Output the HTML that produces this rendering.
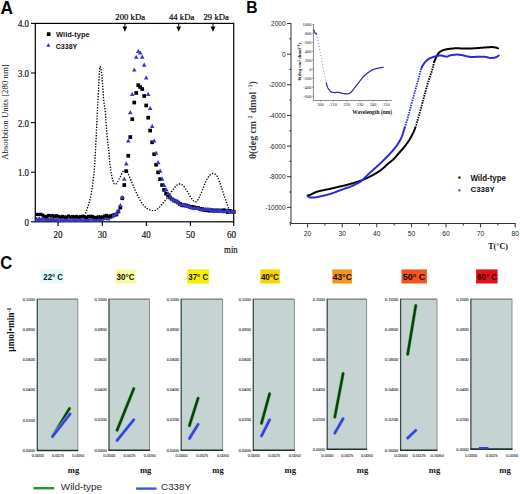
<!DOCTYPE html>
<html><head><meta charset="utf-8"><style>
html,body{margin:0;padding:0;background:#fff;width:520px;height:494px;overflow:hidden;}
svg{display:block;}
</style></head><body>
<svg width="520" height="494" viewBox="0 0 520 494">
<rect width="520" height="494" fill="#fff"/>
<text transform="translate(0.6,13.5) scale(0.98,1)" font-family='"Liberation Sans", sans-serif' font-size="17.6" font-weight="bold" fill="#000">A</text>
<rect x="35.3" y="23.4" width="198.39999999999998" height="198.4" fill="none" stroke="#000" stroke-width="1.2"/>
<line x1="31.00" y1="23.40" x2="35.30" y2="23.40" stroke="#000" stroke-width="1.1" />
<text transform="translate(29.0,27.30) scale(0.83,1)" font-family='"Liberation Serif", serif' font-size="10.6" text-anchor="end" fill="#111" stroke="#111" stroke-width="0.2">4.0</text>
<line x1="31.00" y1="73.00" x2="35.30" y2="73.00" stroke="#000" stroke-width="1.1" />
<text transform="translate(29.0,76.90) scale(0.83,1)" font-family='"Liberation Serif", serif' font-size="10.6" text-anchor="end" fill="#111" stroke="#111" stroke-width="0.2">3.0</text>
<line x1="31.00" y1="122.60" x2="35.30" y2="122.60" stroke="#000" stroke-width="1.1" />
<text transform="translate(29.0,126.50) scale(0.83,1)" font-family='"Liberation Serif", serif' font-size="10.6" text-anchor="end" fill="#111" stroke="#111" stroke-width="0.2">2.0</text>
<line x1="31.00" y1="172.20" x2="35.30" y2="172.20" stroke="#000" stroke-width="1.1" />
<text transform="translate(29.0,176.10) scale(0.83,1)" font-family='"Liberation Serif", serif' font-size="10.6" text-anchor="end" fill="#111" stroke="#111" stroke-width="0.2">1.0</text>
<line x1="31.00" y1="221.80" x2="35.30" y2="221.80" stroke="#000" stroke-width="1.1" />
<text transform="translate(29.0,225.70) scale(0.83,1)" font-family='"Liberation Serif", serif' font-size="10.6" text-anchor="end" fill="#111" stroke="#111" stroke-width="0.2">0</text>
<line x1="58.10" y1="221.80" x2="58.10" y2="226.00" stroke="#000" stroke-width="1.1" />
<text transform="translate(58.10,237.5) scale(0.86,1)" font-family='"Liberation Serif", serif' font-size="10.5" text-anchor="middle" fill="#111" stroke="#111" stroke-width="0.2">20</text>
<line x1="102.30" y1="221.80" x2="102.30" y2="226.00" stroke="#000" stroke-width="1.1" />
<text transform="translate(102.30,237.5) scale(0.86,1)" font-family='"Liberation Serif", serif' font-size="10.5" text-anchor="middle" fill="#111" stroke="#111" stroke-width="0.2">30</text>
<line x1="146.30" y1="221.80" x2="146.30" y2="226.00" stroke="#000" stroke-width="1.1" />
<text transform="translate(146.30,237.5) scale(0.86,1)" font-family='"Liberation Serif", serif' font-size="10.5" text-anchor="middle" fill="#111" stroke="#111" stroke-width="0.2">40</text>
<line x1="190.40" y1="221.80" x2="190.40" y2="226.00" stroke="#000" stroke-width="1.1" />
<text transform="translate(190.40,237.5) scale(0.86,1)" font-family='"Liberation Serif", serif' font-size="10.5" text-anchor="middle" fill="#111" stroke="#111" stroke-width="0.2">50</text>
<line x1="233.70" y1="221.80" x2="233.70" y2="226.00" stroke="#000" stroke-width="1.1" />
<text transform="translate(231.60,237.5) scale(0.86,1)" font-family='"Liberation Serif", serif' font-size="10.5" text-anchor="middle" fill="#111" stroke="#111" stroke-width="0.2">60</text>
<text transform="translate(230.9,252.8) scale(0.86,1)" font-family='"Liberation Serif", serif' font-size="10.2" text-anchor="middle" fill="#111" stroke="#111" stroke-width="0.2">min</text>
<text x="130.20" y="19.60" font-family='"Liberation Serif", serif' font-size="8.7" font-weight="normal" text-anchor="middle" fill="#000" stroke="#000" stroke-width="0.2">200 kDa</text>
<line x1="124.90" y1="23.40" x2="124.90" y2="26.60" stroke="#000" stroke-width="1.0" />
<polygon points="122.50,26.4 127.30,26.4 124.90,31.8" fill="#000"/>
<text x="181.60" y="19.60" font-family='"Liberation Serif", serif' font-size="8.7" font-weight="normal" text-anchor="middle" fill="#000" stroke="#000" stroke-width="0.2">44 kDa</text>
<line x1="178.70" y1="23.40" x2="178.70" y2="26.60" stroke="#000" stroke-width="1.0" />
<polygon points="176.30,26.4 181.10,26.4 178.70,31.8" fill="#000"/>
<text x="216.20" y="19.60" font-family='"Liberation Serif", serif' font-size="8.7" font-weight="normal" text-anchor="middle" fill="#000" stroke="#000" stroke-width="0.2">29 kDa</text>
<line x1="213.00" y1="23.40" x2="213.00" y2="26.60" stroke="#000" stroke-width="1.0" />
<polygon points="210.60,26.4 215.40,26.4 213.00,31.8" fill="#000"/>
<text transform="translate(7.6,112.1) rotate(-90)" font-family='"Liberation Serif", serif' font-size="8.8" text-anchor="middle" fill="#111">Absorbtion Units [280 nm]</text>
<path d="M36.00,218.00 L36.15,218.00 L36.31,218.00 L36.48,218.00 L36.65,218.00 L36.83,218.00 L37.01,218.00 L37.20,218.00 L37.39,218.00 L37.59,218.00 L37.79,218.00 L38.00,218.01 L38.22,218.01 L38.44,218.01 L38.66,218.01 L38.89,218.01 L39.12,218.01 L39.36,218.01 L39.61,218.01 L39.85,218.01 L40.11,218.02 L40.36,218.02 L40.62,218.02 L40.89,218.02 L41.16,218.02 L41.43,218.02 L41.71,218.03 L41.99,218.03 L42.28,218.03 L42.57,218.03 L42.86,218.03 L43.15,218.04 L43.45,218.04 L43.76,218.04 L44.06,218.04 L44.37,218.04 L44.69,218.05 L45.00,218.05 L45.32,218.05 L45.64,218.05 L45.97,218.05 L46.30,218.06 L46.63,218.06 L46.96,218.06 L47.29,218.06 L47.63,218.07 L47.97,218.07 L48.31,218.07 L48.66,218.07 L49.00,218.07 L49.35,218.08 L49.70,218.08 L50.06,218.08 L50.41,218.08 L50.77,218.09 L51.12,218.09 L51.48,218.09 L51.84,218.09 L52.21,218.10 L52.57,218.10 L52.93,218.10 L53.30,218.10 L53.67,218.10 L54.04,218.11 L54.40,218.11 L54.77,218.11 L55.14,218.11 L55.51,218.11 L55.89,218.12 L56.26,218.12 L56.63,218.12 L57.00,218.12 L57.38,218.12 L57.75,218.12 L58.12,218.13 L58.50,218.13 L58.87,218.13 L59.24,218.13 L59.62,218.13 L59.99,218.13 L60.36,218.14 L60.73,218.14 L61.10,218.14 L61.47,218.14 L61.84,218.14 L62.21,218.14 L62.58,218.14 L62.95,218.14 L63.31,218.14 L63.68,218.15 L64.04,218.15 L64.41,218.15 L64.77,218.15 L65.13,218.15 L65.48,218.15 L65.84,218.15 L66.20,218.15 L66.55,218.15 L66.90,218.15 L67.25,218.15 L67.60,218.15 L67.94,218.15 L68.29,218.15 L68.63,218.15 L68.96,218.15 L69.30,218.15 L69.63,218.14 L69.97,218.14 L70.29,218.14 L70.62,218.14 L70.94,218.14 L71.26,218.14 L71.58,218.14 L71.89,218.14 L72.20,218.13 L72.51,218.13 L72.82,218.13 L73.12,218.13 L73.41,218.13 L73.71,218.12 L74.00,218.12 L74.28,218.12 L74.57,218.11 L74.84,218.11 L75.12,218.11 L75.39,218.11 L75.66,218.10 L75.92,218.10 L76.18,218.09 L76.43,218.09 L76.68,218.09 L76.93,218.08 L77.17,218.08 L77.40,218.07 L77.63,218.07 L77.86,218.06 L78.08,218.06 L78.29,218.05 L78.51,218.05 L78.71,218.04 L78.91,218.04 L79.11,218.03 L79.30,218.03 L79.48,218.02 L79.66,218.01 L79.83,218.01 L80.00,218.00 L81.52,217.92 L82.69,217.84 L83.54,217.75 L84.11,217.65 L84.45,217.54 L84.61,217.41 L84.61,217.28 L84.51,217.14 L84.34,216.98 L84.15,216.81 L83.98,216.63 L83.87,216.43 L83.86,216.22 L84.00,216.00 L84.19,215.79 L84.36,215.56 L84.53,215.33 L84.69,215.07 L84.83,214.81 L84.97,214.54 L85.11,214.26 L85.24,213.97 L85.36,213.67 L85.48,213.37 L85.60,213.06 L85.72,212.75 L85.84,212.44 L85.96,212.13 L86.08,211.81 L86.20,211.50 L86.30,211.24 L86.41,210.97 L86.50,210.70 L86.60,210.43 L86.70,210.16 L86.79,209.88 L86.88,209.60 L86.98,209.32 L87.07,209.04 L87.16,208.75 L87.25,208.46 L87.34,208.16 L87.43,207.87 L87.52,207.57 L87.61,207.26 L87.71,206.95 L87.80,206.64 L87.90,206.32 L88.00,206.00 L88.08,205.73 L88.17,205.47 L88.25,205.20 L88.34,204.94 L88.42,204.67 L88.51,204.40 L88.59,204.14 L88.68,203.87 L88.77,203.59 L88.86,203.32 L88.94,203.04 L89.03,202.75 L89.12,202.46 L89.21,202.17 L89.30,201.87 L89.38,201.56 L89.47,201.25 L89.56,200.93 L89.65,200.60 L89.74,200.26 L89.83,199.92 L89.91,199.56 L90.00,199.20 L90.06,198.95 L90.12,198.69 L90.18,198.42 L90.24,198.14 L90.30,197.86 L90.36,197.58 L90.43,197.29 L90.49,196.99 L90.55,196.69 L90.62,196.39 L90.68,196.08 L90.74,195.77 L90.81,195.46 L90.87,195.14 L90.93,194.83 L90.99,194.51 L91.06,194.19 L91.12,193.87 L91.18,193.55 L91.24,193.23 L91.30,192.91 L91.36,192.59 L91.42,192.27 L91.48,191.96 L91.53,191.64 L91.59,191.33 L91.65,191.03 L91.70,190.72 L91.75,190.42 L91.81,190.13 L91.86,189.84 L91.91,189.55 L91.95,189.27 L92.00,189.00 L92.06,188.66 L92.11,188.34 L92.16,188.02 L92.21,187.70 L92.26,187.39 L92.30,187.09 L92.35,186.80 L92.39,186.50 L92.43,186.21 L92.47,185.93 L92.51,185.64 L92.55,185.36 L92.58,185.08 L92.62,184.80 L92.65,184.51 L92.69,184.23 L92.72,183.94 L92.76,183.65 L92.79,183.36 L92.83,183.06 L92.87,182.76 L92.90,182.45 L92.94,182.14 L92.98,181.81 L93.02,181.48 L93.06,181.15 L93.10,180.80 L93.13,180.54 L93.16,180.28 L93.20,180.02 L93.23,179.76 L93.26,179.51 L93.29,179.26 L93.33,179.00 L93.36,178.75 L93.39,178.50 L93.43,178.24 L93.46,177.99 L93.49,177.73 L93.53,177.47 L93.56,177.21 L93.59,176.95 L93.63,176.68 L93.66,176.41 L93.69,176.14 L93.73,175.86 L93.76,175.57 L93.79,175.28 L93.83,174.99 L93.86,174.69 L93.90,174.38 L93.93,174.06 L93.96,173.74 L94.00,173.41 L94.03,173.07 L94.07,172.72 L94.10,172.36 L94.13,172.00 L94.17,171.62 L94.20,171.23 L94.23,170.83 L94.27,170.42 L94.30,170.00 L94.32,169.76 L94.34,169.53 L94.35,169.28 L94.37,169.03 L94.39,168.78 L94.41,168.53 L94.43,168.27 L94.45,168.01 L94.47,167.74 L94.48,167.47 L94.50,167.20 L94.52,166.92 L94.54,166.64 L94.56,166.36 L94.58,166.08 L94.60,165.79 L94.61,165.50 L94.63,165.21 L94.65,164.91 L94.67,164.62 L94.69,164.32 L94.71,164.01 L94.73,163.71 L94.74,163.40 L94.76,163.10 L94.78,162.79 L94.80,162.48 L94.82,162.16 L94.84,161.85 L94.86,161.53 L94.88,161.21 L94.89,160.89 L94.91,160.57 L94.93,160.25 L94.95,159.93 L94.97,159.61 L94.99,159.29 L95.00,158.96 L95.02,158.64 L95.04,158.31 L95.06,157.99 L95.08,157.66 L95.10,157.33 L95.11,157.01 L95.13,156.68 L95.15,156.36 L95.17,156.03 L95.19,155.70 L95.21,155.38 L95.22,155.05 L95.24,154.73 L95.26,154.41 L95.28,154.08 L95.29,153.76 L95.31,153.44 L95.33,153.12 L95.35,152.80 L95.36,152.48 L95.38,152.17 L95.40,151.85 L95.42,151.54 L95.43,151.23 L95.45,150.92 L95.47,150.61 L95.48,150.30 L95.50,150.00 L95.52,149.70 L95.53,149.39 L95.55,149.09 L95.57,148.78 L95.58,148.48 L95.60,148.17 L95.62,147.86 L95.63,147.56 L95.65,147.25 L95.66,146.94 L95.68,146.63 L95.70,146.32 L95.71,146.01 L95.73,145.70 L95.74,145.39 L95.76,145.08 L95.78,144.77 L95.79,144.46 L95.81,144.15 L95.82,143.84 L95.84,143.53 L95.86,143.22 L95.87,142.91 L95.89,142.60 L95.90,142.29 L95.92,141.98 L95.93,141.67 L95.95,141.36 L95.96,141.05 L95.98,140.74 L95.99,140.43 L96.01,140.12 L96.03,139.81 L96.04,139.50 L96.06,139.20 L96.07,138.89 L96.09,138.58 L96.10,138.27 L96.12,137.97 L96.13,137.66 L96.14,137.36 L96.16,137.05 L96.17,136.75 L96.19,136.44 L96.20,136.14 L96.22,135.84 L96.23,135.54 L96.25,135.24 L96.26,134.94 L96.28,134.64 L96.29,134.34 L96.30,134.04 L96.32,133.75 L96.33,133.45 L96.35,133.16 L96.36,132.87 L96.38,132.57 L96.39,132.28 L96.40,131.99 L96.42,131.71 L96.43,131.42 L96.45,131.13 L96.46,130.85 L96.47,130.56 L96.49,130.28 L96.50,130.00 L96.52,129.67 L96.53,129.34 L96.55,129.02 L96.56,128.70 L96.58,128.37 L96.59,128.06 L96.61,127.74 L96.62,127.42 L96.64,127.11 L96.65,126.80 L96.67,126.49 L96.68,126.18 L96.70,125.87 L96.71,125.56 L96.72,125.26 L96.74,124.95 L96.75,124.65 L96.76,124.35 L96.78,124.05 L96.79,123.75 L96.81,123.45 L96.82,123.15 L96.83,122.85 L96.85,122.56 L96.86,122.26 L96.87,121.97 L96.89,121.67 L96.90,121.38 L96.91,121.08 L96.93,120.79 L96.94,120.49 L96.95,120.20 L96.97,119.90 L96.98,119.61 L96.99,119.32 L97.01,119.02 L97.02,118.73 L97.04,118.43 L97.05,118.14 L97.06,117.84 L97.08,117.55 L97.09,117.25 L97.10,116.95 L97.12,116.65 L97.13,116.36 L97.15,116.06 L97.16,115.76 L97.18,115.45 L97.19,115.15 L97.21,114.85 L97.22,114.54 L97.24,114.24 L97.25,113.93 L97.27,113.62 L97.28,113.31 L97.30,113.00 L97.32,112.71 L97.33,112.42 L97.35,112.12 L97.36,111.83 L97.38,111.54 L97.39,111.25 L97.41,110.96 L97.42,110.67 L97.44,110.37 L97.46,110.08 L97.47,109.79 L97.49,109.50 L97.51,109.20 L97.52,108.91 L97.54,108.62 L97.55,108.32 L97.57,108.03 L97.59,107.74 L97.61,107.44 L97.62,107.15 L97.64,106.85 L97.66,106.56 L97.67,106.26 L97.69,105.97 L97.71,105.67 L97.72,105.38 L97.74,105.08 L97.76,104.78 L97.78,104.49 L97.79,104.19 L97.81,103.89 L97.83,103.59 L97.85,103.29 L97.86,102.99 L97.88,102.69 L97.90,102.39 L97.91,102.09 L97.93,101.79 L97.95,101.49 L97.97,101.19 L97.98,100.88 L98.00,100.58 L98.02,100.27 L98.04,99.97 L98.05,99.66 L98.07,99.36 L98.09,99.05 L98.10,98.74 L98.12,98.44 L98.14,98.13 L98.15,97.82 L98.17,97.51 L98.19,97.20 L98.20,96.89 L98.22,96.57 L98.24,96.26 L98.25,95.95 L98.27,95.63 L98.28,95.32 L98.30,95.00 L98.31,94.71 L98.33,94.42 L98.34,94.12 L98.36,93.82 L98.37,93.52 L98.39,93.21 L98.40,92.90 L98.41,92.59 L98.43,92.28 L98.44,91.96 L98.46,91.64 L98.47,91.32 L98.49,91.00 L98.50,90.68 L98.51,90.35 L98.53,90.02 L98.54,89.69 L98.56,89.37 L98.57,89.03 L98.58,88.70 L98.60,88.37 L98.61,88.04 L98.62,87.70 L98.64,87.37 L98.65,87.04 L98.67,86.70 L98.68,86.37 L98.69,86.03 L98.71,85.70 L98.72,85.37 L98.74,85.04 L98.75,84.71 L98.76,84.38 L98.78,84.05 L98.79,83.72 L98.80,83.39 L98.82,83.07 L98.83,82.74 L98.84,82.42 L98.86,82.10 L98.87,81.79 L98.88,81.47 L98.90,81.16 L98.91,80.85 L98.92,80.55 L98.94,80.24 L98.95,79.94 L98.96,79.64 L98.98,79.35 L98.99,79.06 L99.00,78.77 L99.02,78.49 L99.03,78.21 L99.04,77.93 L99.06,77.66 L99.07,77.40 L99.08,77.13 L99.10,76.88 L99.11,76.62 L99.12,76.37 L99.14,76.13 L99.15,75.89 L99.16,75.66 L99.17,75.44 L99.19,75.22 L99.20,75.00 L99.23,74.47 L99.26,73.97 L99.30,73.48 L99.33,73.02 L99.36,72.57 L99.39,72.15 L99.42,71.75 L99.45,71.36 L99.48,70.99 L99.51,70.64 L99.55,70.31 L99.58,69.99 L99.61,69.69 L99.64,69.40 L99.67,69.13 L99.70,68.88 L99.73,68.63 L99.76,68.40 L99.79,68.19 L99.82,67.99 L99.85,67.79 L99.88,67.61 L99.91,67.45 L99.94,67.29 L99.97,67.14 L100.00,67.00 L100.20,66.48 L100.39,66.56 L100.59,67.12 L100.80,68.00 L100.84,68.18 L100.88,68.36 L100.92,68.56 L100.96,68.76 L101.00,68.97 L101.04,69.20 L101.08,69.43 L101.13,69.68 L101.17,69.93 L101.21,70.20 L101.25,70.48 L101.30,70.77 L101.34,71.08 L101.38,71.40 L101.43,71.74 L101.47,72.09 L101.52,72.45 L101.57,72.83 L101.61,73.23 L101.66,73.65 L101.71,74.08 L101.75,74.53 L101.80,75.00 L101.82,75.22 L101.84,75.46 L101.87,75.70 L101.89,75.94 L101.91,76.20 L101.94,76.46 L101.96,76.73 L101.99,77.00 L102.01,77.28 L102.04,77.57 L102.06,77.86 L102.09,78.15 L102.11,78.46 L102.14,78.76 L102.16,79.07 L102.19,79.38 L102.21,79.70 L102.24,80.02 L102.26,80.34 L102.29,80.66 L102.32,80.99 L102.34,81.32 L102.37,81.65 L102.39,81.98 L102.42,82.31 L102.44,82.65 L102.47,82.98 L102.50,83.31 L102.52,83.64 L102.55,83.98 L102.57,84.31 L102.60,84.64 L102.62,84.97 L102.65,85.29 L102.67,85.62 L102.69,85.94 L102.72,86.26 L102.74,86.57 L102.77,86.88 L102.79,87.19 L102.81,87.50 L102.83,87.80 L102.86,88.09 L102.88,88.38 L102.90,88.67 L102.92,88.95 L102.94,89.22 L102.96,89.49 L102.98,89.75 L103.00,90.00 L103.03,90.37 L103.05,90.73 L103.08,91.09 L103.10,91.43 L103.12,91.76 L103.14,92.08 L103.16,92.40 L103.18,92.71 L103.20,93.01 L103.22,93.30 L103.23,93.59 L103.25,93.88 L103.26,94.16 L103.28,94.44 L103.30,94.71 L103.31,94.99 L103.33,95.26 L103.34,95.53 L103.36,95.81 L103.38,96.08 L103.39,96.35 L103.41,96.63 L103.43,96.91 L103.45,97.19 L103.47,97.48 L103.49,97.77 L103.52,98.07 L103.54,98.37 L103.57,98.68 L103.60,99.00 L103.63,99.32 L103.66,99.66 L103.70,100.00 L103.73,100.27 L103.76,100.53 L103.79,100.80 L103.82,101.06 L103.85,101.32 L103.89,101.58 L103.92,101.85 L103.96,102.11 L103.99,102.37 L104.03,102.63 L104.07,102.89 L104.10,103.16 L104.14,103.42 L104.18,103.69 L104.22,103.96 L104.26,104.23 L104.30,104.50 L104.35,104.77 L104.39,105.05 L104.43,105.33 L104.47,105.61 L104.52,105.89 L104.56,106.18 L104.60,106.47 L104.64,106.77 L104.69,107.07 L104.73,107.37 L104.77,107.68 L104.82,107.99 L104.86,108.31 L104.90,108.64 L104.95,108.96 L104.99,109.30 L105.03,109.64 L105.08,109.98 L105.12,110.34 L105.16,110.70 L105.20,111.06 L105.24,111.43 L105.28,111.81 L105.32,112.20 L105.36,112.60 L105.40,113.00 L105.42,113.24 L105.45,113.49 L105.47,113.74 L105.49,113.99 L105.51,114.25 L105.53,114.51 L105.56,114.78 L105.58,115.05 L105.60,115.32 L105.62,115.60 L105.64,115.88 L105.67,116.16 L105.69,116.45 L105.71,116.74 L105.73,117.03 L105.75,117.32 L105.77,117.62 L105.79,117.92 L105.82,118.22 L105.84,118.52 L105.86,118.83 L105.88,119.14 L105.90,119.45 L105.92,119.76 L105.94,120.08 L105.96,120.39 L105.99,120.71 L106.01,121.03 L106.03,121.35 L106.05,121.67 L106.07,121.99 L106.09,122.31 L106.11,122.64 L106.13,122.96 L106.16,123.29 L106.18,123.61 L106.20,123.94 L106.22,124.26 L106.24,124.59 L106.26,124.92 L106.28,125.24 L106.30,125.57 L106.33,125.90 L106.35,126.22 L106.37,126.55 L106.39,126.87 L106.41,127.20 L106.43,127.52 L106.46,127.84 L106.48,128.16 L106.50,128.48 L106.52,128.80 L106.54,129.12 L106.56,129.43 L106.59,129.75 L106.61,130.06 L106.63,130.37 L106.65,130.68 L106.68,130.99 L106.70,131.29 L106.72,131.59 L106.74,131.89 L106.77,132.19 L106.79,132.48 L106.81,132.78 L106.84,133.06 L106.86,133.35 L106.88,133.63 L106.91,133.91 L106.93,134.19 L106.95,134.46 L106.98,134.73 L107.00,135.00 L107.03,135.35 L107.06,135.70 L107.10,136.04 L107.13,136.38 L107.16,136.72 L107.20,137.06 L107.23,137.39 L107.27,137.72 L107.30,138.05 L107.34,138.37 L107.37,138.70 L107.41,139.02 L107.44,139.34 L107.48,139.66 L107.51,139.97 L107.55,140.28 L107.58,140.60 L107.62,140.90 L107.66,141.21 L107.69,141.52 L107.73,141.82 L107.77,142.12 L107.80,142.43 L107.84,142.73 L107.88,143.02 L107.91,143.32 L107.95,143.62 L107.99,143.91 L108.02,144.20 L108.06,144.49 L108.10,144.78 L108.13,145.07 L108.17,145.36 L108.20,145.65 L108.24,145.94 L108.28,146.22 L108.31,146.51 L108.35,146.79 L108.38,147.08 L108.42,147.36 L108.45,147.65 L108.49,147.93 L108.52,148.21 L108.55,148.49 L108.59,148.78 L108.62,149.06 L108.65,149.34 L108.69,149.62 L108.72,149.90 L108.75,150.19 L108.78,150.47 L108.81,150.75 L108.84,151.03 L108.87,151.32 L108.90,151.60 L108.93,151.92 L108.96,152.25 L109.00,152.57 L109.03,152.89 L109.06,153.21 L109.08,153.53 L109.11,153.85 L109.14,154.16 L109.17,154.48 L109.19,154.79 L109.22,155.11 L109.24,155.42 L109.27,155.73 L109.29,156.04 L109.31,156.35 L109.34,156.66 L109.36,156.97 L109.38,157.27 L109.41,157.58 L109.43,157.89 L109.45,158.19 L109.47,158.49 L109.50,158.80 L109.52,159.10 L109.54,159.40 L109.56,159.70 L109.59,160.00 L109.61,160.30 L109.63,160.60 L109.66,160.90 L109.68,161.20 L109.71,161.50 L109.73,161.79 L109.76,162.09 L109.78,162.39 L109.81,162.68 L109.84,162.98 L109.87,163.27 L109.90,163.57 L109.93,163.86 L109.96,164.15 L109.99,164.45 L110.02,164.74 L110.06,165.03 L110.09,165.32 L110.13,165.62 L110.16,165.91 L110.20,166.20 L110.24,166.51 L110.28,166.83 L110.33,167.15 L110.37,167.47 L110.42,167.79 L110.46,168.11 L110.51,168.44 L110.56,168.77 L110.61,169.09 L110.66,169.42 L110.71,169.75 L110.76,170.08 L110.81,170.41 L110.87,170.74 L110.92,171.07 L110.97,171.40 L111.03,171.73 L111.08,172.06 L111.14,172.39 L111.19,172.71 L111.25,173.03 L111.30,173.35 L111.36,173.67 L111.42,173.99 L111.47,174.30 L111.53,174.61 L111.59,174.92 L111.64,175.22 L111.70,175.52 L111.76,175.81 L111.82,176.11 L111.87,176.39 L111.93,176.67 L111.99,176.95 L112.05,177.22 L112.10,177.49 L112.16,177.75 L112.22,178.00 L112.27,178.25 L112.33,178.50 L112.38,178.73 L112.44,178.96 L112.49,179.18 L112.55,179.39 L112.60,179.60 L112.74,180.12 L112.88,180.61 L113.02,181.07 L113.15,181.49 L113.29,181.89 L113.42,182.26 L113.56,182.60 L113.69,182.91 L113.83,183.19 L113.97,183.44 L114.11,183.66 L114.25,183.85 L114.39,184.02 L114.54,184.15 L114.69,184.26 L114.84,184.35 L115.00,184.40 L115.18,184.42 L115.36,184.39 L115.54,184.32 L115.72,184.20 L115.91,184.05 L116.09,183.86 L116.28,183.63 L116.48,183.37 L116.68,183.09 L116.88,182.79 L117.09,182.46 L117.31,182.11 L117.53,181.75 L117.76,181.38 L118.00,181.00 L118.12,180.80 L118.25,180.59 L118.39,180.36 L118.53,180.11 L118.67,179.86 L118.81,179.59 L118.96,179.32 L119.11,179.04 L119.27,178.75 L119.42,178.45 L119.58,178.15 L119.74,177.84 L119.90,177.53 L120.05,177.22 L120.21,176.91 L120.37,176.59 L120.53,176.28 L120.68,175.98 L120.84,175.67 L120.99,175.37 L121.14,175.08 L121.28,174.80 L121.43,174.52 L121.57,174.25 L121.70,173.99 L121.83,173.75 L121.96,173.51 L122.08,173.29 L122.19,173.09 L122.30,172.90 L122.57,172.43 L122.79,172.02 L122.99,171.65 L123.17,171.33 L123.33,171.05 L123.47,170.82 L123.62,170.62 L123.77,170.47 L123.92,170.34 L124.10,170.26 L124.30,170.20 L124.54,170.18 L124.79,170.20 L125.04,170.26 L125.31,170.38 L125.58,170.53 L125.85,170.73 L126.13,170.98 L126.42,171.27 L126.71,171.61 L127.00,172.00 L127.13,172.18 L127.26,172.38 L127.38,172.58 L127.51,172.79 L127.64,173.01 L127.77,173.24 L127.90,173.48 L128.03,173.73 L128.16,173.99 L128.30,174.25 L128.43,174.53 L128.57,174.81 L128.71,175.10 L128.84,175.40 L128.99,175.70 L129.13,176.02 L129.27,176.34 L129.42,176.66 L129.57,177.00 L129.72,177.34 L129.88,177.69 L130.04,178.04 L130.20,178.40 L130.30,178.63 L130.41,178.87 L130.51,179.11 L130.62,179.36 L130.73,179.62 L130.84,179.88 L130.96,180.15 L131.07,180.42 L131.19,180.70 L131.30,180.98 L131.42,181.27 L131.54,181.56 L131.66,181.85 L131.78,182.15 L131.90,182.44 L132.03,182.74 L132.15,183.04 L132.27,183.34 L132.39,183.64 L132.52,183.95 L132.64,184.25 L132.76,184.55 L132.88,184.85 L133.00,185.15 L133.13,185.44 L133.25,185.74 L133.37,186.03 L133.49,186.32 L133.60,186.60 L133.72,186.88 L133.84,187.16 L133.95,187.43 L134.06,187.70 L134.18,187.96 L134.29,188.21 L134.39,188.46 L134.50,188.70 L134.65,189.03 L134.79,189.36 L134.94,189.68 L135.08,189.99 L135.21,190.29 L135.35,190.59 L135.48,190.88 L135.62,191.16 L135.75,191.44 L135.88,191.72 L136.01,191.99 L136.13,192.26 L136.26,192.53 L136.39,192.80 L136.52,193.06 L136.65,193.32 L136.78,193.58 L136.91,193.84 L137.04,194.11 L137.17,194.37 L137.30,194.63 L137.44,194.90 L137.57,195.17 L137.71,195.44 L137.86,195.72 L138.00,196.00 L138.14,196.26 L138.27,196.53 L138.41,196.80 L138.55,197.07 L138.69,197.35 L138.82,197.62 L138.96,197.90 L139.10,198.17 L139.25,198.45 L139.39,198.73 L139.53,199.01 L139.67,199.29 L139.82,199.56 L139.96,199.84 L140.11,200.11 L140.26,200.38 L140.40,200.65 L140.55,200.92 L140.70,201.19 L140.85,201.45 L141.00,201.71 L141.16,201.96 L141.31,202.22 L141.47,202.46 L141.62,202.70 L141.78,202.94 L141.94,203.17 L142.10,203.40 L142.30,203.67 L142.49,203.94 L142.69,204.20 L142.89,204.46 L143.08,204.72 L143.28,204.97 L143.48,205.21 L143.69,205.46 L143.89,205.70 L144.09,205.93 L144.30,206.16 L144.51,206.39 L144.72,206.61 L144.94,206.82 L145.15,207.03 L145.37,207.24 L145.59,207.43 L145.82,207.63 L146.05,207.81 L146.28,207.99 L146.52,208.17 L146.76,208.34 L147.00,208.50 L147.26,208.66 L147.53,208.83 L147.81,208.98 L148.10,209.14 L148.39,209.28 L148.69,209.43 L148.99,209.57 L149.29,209.70 L149.60,209.82 L149.91,209.94 L150.22,210.06 L150.53,210.16 L150.84,210.26 L151.14,210.35 L151.44,210.43 L151.74,210.50 L152.04,210.56 L152.33,210.61 L152.61,210.65 L152.88,210.68 L153.14,210.69 L153.40,210.70 L153.74,210.69 L154.06,210.66 L154.37,210.61 L154.67,210.54 L154.96,210.45 L155.24,210.34 L155.52,210.22 L155.79,210.08 L156.06,209.93 L156.32,209.76 L156.59,209.58 L156.86,209.39 L157.14,209.18 L157.42,208.96 L157.70,208.74 L158.00,208.50 L158.20,208.33 L158.40,208.16 L158.61,207.97 L158.81,207.78 L159.02,207.58 L159.22,207.37 L159.43,207.15 L159.64,206.93 L159.85,206.70 L160.05,206.47 L160.26,206.23 L160.47,205.99 L160.69,205.74 L160.90,205.49 L161.11,205.24 L161.32,204.99 L161.53,204.74 L161.74,204.49 L161.95,204.24 L162.16,203.98 L162.37,203.73 L162.58,203.49 L162.79,203.24 L163.00,203.00 L163.19,202.78 L163.39,202.55 L163.58,202.33 L163.78,202.10 L163.98,201.88 L164.17,201.65 L164.37,201.42 L164.57,201.19 L164.77,200.96 L164.97,200.73 L165.17,200.50 L165.37,200.26 L165.56,200.03 L165.76,199.80 L165.96,199.56 L166.15,199.33 L166.34,199.10 L166.54,198.86 L166.73,198.63 L166.91,198.39 L167.10,198.16 L167.29,197.93 L167.47,197.70 L167.65,197.46 L167.83,197.23 L168.00,197.00 L168.19,196.75 L168.37,196.50 L168.55,196.24 L168.72,195.99 L168.90,195.73 L169.07,195.48 L169.24,195.22 L169.41,194.96 L169.57,194.71 L169.74,194.45 L169.90,194.19 L170.06,193.94 L170.22,193.68 L170.38,193.43 L170.54,193.18 L170.70,192.93 L170.86,192.68 L171.02,192.43 L171.18,192.18 L171.34,191.94 L171.51,191.70 L171.67,191.46 L171.83,191.23 L172.00,191.00 L172.19,190.74 L172.38,190.47 L172.58,190.21 L172.77,189.94 L172.97,189.68 L173.16,189.41 L173.36,189.15 L173.55,188.89 L173.75,188.63 L173.94,188.38 L174.13,188.13 L174.33,187.88 L174.52,187.64 L174.71,187.41 L174.90,187.18 L175.09,186.96 L175.28,186.75 L175.46,186.55 L175.64,186.36 L175.82,186.17 L176.00,186.00 L176.28,185.74 L176.55,185.49 L176.82,185.26 L177.08,185.05 L177.34,184.85 L177.60,184.68 L177.85,184.52 L178.11,184.38 L178.36,184.26 L178.61,184.16 L178.87,184.08 L179.13,184.03 L179.40,184.00 L179.69,183.99 L179.98,184.00 L180.28,184.04 L180.57,184.09 L180.87,184.17 L181.16,184.28 L181.46,184.41 L181.76,184.57 L182.07,184.76 L182.37,184.98 L182.69,185.22 L183.00,185.50 L183.17,185.67 L183.35,185.85 L183.53,186.04 L183.70,186.24 L183.88,186.46 L184.06,186.68 L184.24,186.92 L184.43,187.16 L184.61,187.41 L184.79,187.67 L184.97,187.94 L185.16,188.21 L185.34,188.48 L185.53,188.76 L185.71,189.04 L185.90,189.32 L186.08,189.60 L186.27,189.89 L186.45,190.17 L186.63,190.45 L186.82,190.73 L187.00,191.00 L187.16,191.24 L187.32,191.49 L187.48,191.75 L187.64,192.01 L187.80,192.27 L187.96,192.54 L188.13,192.81 L188.29,193.08 L188.45,193.36 L188.61,193.63 L188.77,193.91 L188.93,194.19 L189.09,194.46 L189.25,194.74 L189.41,195.01 L189.57,195.28 L189.73,195.55 L189.89,195.81 L190.05,196.07 L190.21,196.32 L190.37,196.57 L190.53,196.82 L190.69,197.05 L190.84,197.28 L191.00,197.50 L191.21,197.79 L191.41,198.08 L191.62,198.37 L191.82,198.67 L192.03,198.96 L192.24,199.25 L192.44,199.53 L192.64,199.80 L192.85,200.07 L193.05,200.33 L193.25,200.57 L193.45,200.80 L193.65,201.01 L193.85,201.20 L194.04,201.37 L194.24,201.51 L194.43,201.64 L194.61,201.73 L194.80,201.80 L195.06,201.86 L195.32,201.87 L195.56,201.85 L195.80,201.78 L196.04,201.68 L196.27,201.54 L196.50,201.35 L196.74,201.14 L196.98,200.88 L197.22,200.59 L197.47,200.26 L197.73,199.90 L198.00,199.50 L198.12,199.32 L198.24,199.13 L198.36,198.93 L198.48,198.72 L198.60,198.50 L198.72,198.27 L198.85,198.03 L198.98,197.78 L199.10,197.53 L199.23,197.27 L199.36,197.00 L199.49,196.73 L199.62,196.45 L199.75,196.17 L199.88,195.88 L200.02,195.58 L200.15,195.29 L200.28,194.99 L200.41,194.68 L200.55,194.38 L200.68,194.07 L200.81,193.76 L200.95,193.45 L201.08,193.14 L201.21,192.83 L201.35,192.52 L201.48,192.22 L201.61,191.91 L201.74,191.60 L201.87,191.30 L202.00,191.00 L202.11,190.73 L202.23,190.46 L202.34,190.18 L202.46,189.90 L202.57,189.62 L202.69,189.33 L202.80,189.03 L202.91,188.74 L203.03,188.44 L203.14,188.14 L203.26,187.83 L203.37,187.53 L203.49,187.22 L203.60,186.92 L203.71,186.61 L203.83,186.30 L203.94,186.00 L204.06,185.69 L204.17,185.39 L204.29,185.08 L204.40,184.78 L204.51,184.49 L204.63,184.19 L204.74,183.90 L204.86,183.61 L204.97,183.32 L205.09,183.04 L205.20,182.77 L205.31,182.50 L205.43,182.23 L205.54,181.97 L205.66,181.72 L205.77,181.47 L205.89,181.23 L206.00,181.00 L206.17,180.67 L206.34,180.35 L206.50,180.03 L206.67,179.72 L206.84,179.41 L207.01,179.11 L207.18,178.82 L207.36,178.54 L207.53,178.26 L207.70,177.99 L207.87,177.73 L208.04,177.47 L208.21,177.22 L208.38,176.98 L208.54,176.74 L208.71,176.52 L208.88,176.30 L209.04,176.09 L209.21,175.89 L209.37,175.69 L209.53,175.51 L209.69,175.33 L209.84,175.16 L210.00,175.00 L210.30,174.70 L210.60,174.44 L210.89,174.21 L211.17,174.02 L211.45,173.85 L211.73,173.72 L212.00,173.61 L212.27,173.54 L212.55,173.49 L212.83,173.47 L213.11,173.47 L213.40,173.50 L213.65,173.54 L213.90,173.58 L214.15,173.64 L214.40,173.70 L214.65,173.79 L214.91,173.90 L215.16,174.03 L215.42,174.19 L215.68,174.39 L215.94,174.62 L216.20,174.90 L216.46,175.21 L216.73,175.58 L217.00,176.00 L217.11,176.18 L217.22,176.38 L217.33,176.58 L217.44,176.80 L217.55,177.02 L217.66,177.25 L217.77,177.49 L217.89,177.74 L218.00,177.99 L218.11,178.25 L218.23,178.52 L218.34,178.80 L218.46,179.08 L218.57,179.36 L218.69,179.66 L218.80,179.95 L218.92,180.25 L219.03,180.56 L219.15,180.87 L219.26,181.18 L219.38,181.50 L219.50,181.81 L219.61,182.13 L219.73,182.46 L219.85,182.78 L219.96,183.10 L220.08,183.43 L220.19,183.75 L220.31,184.08 L220.43,184.40 L220.54,184.72 L220.66,185.05 L220.77,185.37 L220.89,185.68 L221.00,186.00 L221.10,186.26 L221.19,186.53 L221.29,186.80 L221.39,187.08 L221.48,187.36 L221.58,187.64 L221.68,187.92 L221.78,188.21 L221.88,188.50 L221.97,188.79 L222.07,189.08 L222.17,189.38 L222.27,189.68 L222.37,189.97 L222.47,190.27 L222.57,190.57 L222.67,190.87 L222.77,191.18 L222.87,191.48 L222.96,191.78 L223.06,192.08 L223.16,192.38 L223.26,192.68 L223.36,192.98 L223.45,193.28 L223.55,193.58 L223.65,193.88 L223.74,194.17 L223.84,194.46 L223.93,194.75 L224.02,195.04 L224.12,195.33 L224.21,195.61 L224.30,195.89 L224.39,196.17 L224.48,196.44 L224.57,196.71 L224.66,196.98 L224.75,197.24 L224.83,197.50 L224.92,197.75 L225.00,198.00 L225.12,198.34 L225.23,198.68 L225.34,199.02 L225.45,199.36 L225.56,199.69 L225.66,200.02 L225.77,200.35 L225.87,200.67 L225.97,200.99 L226.07,201.31 L226.17,201.62 L226.27,201.93 L226.37,202.23 L226.47,202.53 L226.56,202.83 L226.66,203.12 L226.75,203.41 L226.85,203.70 L226.94,203.97 L227.04,204.25 L227.13,204.52 L227.23,204.78 L227.32,205.04 L227.42,205.29 L227.51,205.54 L227.61,205.79 L227.70,206.02 L227.80,206.25 L227.90,206.48 L228.00,206.70 L228.18,207.07 L228.36,207.42 L228.54,207.75 L228.72,208.06 L228.90,208.36 L229.08,208.64 L229.26,208.90 L229.44,209.15 L229.62,209.39 L229.80,209.61 L229.98,209.83 L230.15,210.04 L230.33,210.24 L230.50,210.44 L230.67,210.63 L230.84,210.81 L231.00,211.00 L231.28,211.30 L231.57,211.58 L231.87,211.83 L232.16,212.06 L232.44,212.27 L232.70,212.45 L232.95,212.62 L233.17,212.76 L233.35,212.89 L233.50,213.00" fill="none" stroke="#000" stroke-width="1.35" stroke-dasharray="1.35 1.45"/>
<g fill="#000"><rect x="110.51" y="213.81" width="3.7" height="3.7"/><rect x="112.50" y="213.07" width="3.7" height="3.7"/><rect x="114.49" y="212.64" width="3.7" height="3.7"/><rect x="116.48" y="209.65" width="3.7" height="3.7"/><rect x="118.47" y="205.70" width="3.7" height="3.7"/><rect x="120.46" y="196.42" width="3.7" height="3.7"/><rect x="122.45" y="183.15" width="3.7" height="3.7"/><rect x="124.44" y="169.32" width="3.7" height="3.7"/><rect x="126.43" y="153.93" width="3.7" height="3.7"/><rect x="128.42" y="135.19" width="3.7" height="3.7"/><rect x="130.41" y="117.29" width="3.7" height="3.7"/><rect x="132.40" y="100.69" width="3.7" height="3.7"/><rect x="134.39" y="91.09" width="3.7" height="3.7"/><rect x="136.38" y="83.38" width="3.7" height="3.7"/><rect x="138.37" y="85.17" width="3.7" height="3.7"/><rect x="140.36" y="87.19" width="3.7" height="3.7"/><rect x="142.35" y="94.15" width="3.7" height="3.7"/><rect x="144.34" y="103.63" width="3.7" height="3.7"/><rect x="146.33" y="115.83" width="3.7" height="3.7"/><rect x="148.32" y="128.76" width="3.7" height="3.7"/><rect x="150.31" y="140.42" width="3.7" height="3.7"/><rect x="152.30" y="152.35" width="3.7" height="3.7"/><rect x="154.29" y="162.90" width="3.7" height="3.7"/><rect x="156.28" y="170.50" width="3.7" height="3.7"/><rect x="158.27" y="177.31" width="3.7" height="3.7"/><rect x="160.26" y="183.22" width="3.7" height="3.7"/><rect x="162.25" y="188.04" width="3.7" height="3.7"/><rect x="164.24" y="191.74" width="3.7" height="3.7"/><rect x="166.23" y="193.66" width="3.7" height="3.7"/><rect x="168.22" y="195.66" width="3.7" height="3.7"/><rect x="170.21" y="197.52" width="3.7" height="3.7"/><rect x="172.20" y="198.75" width="3.7" height="3.7"/><rect x="174.19" y="199.51" width="3.7" height="3.7"/><rect x="176.18" y="200.67" width="3.7" height="3.7"/><rect x="178.17" y="202.08" width="3.7" height="3.7"/><rect x="180.16" y="203.40" width="3.7" height="3.7"/><rect x="182.15" y="203.51" width="3.7" height="3.7"/><rect x="184.14" y="203.56" width="3.7" height="3.7"/><rect x="186.13" y="204.14" width="3.7" height="3.7"/><rect x="188.12" y="205.06" width="3.7" height="3.7"/><rect x="190.11" y="205.01" width="3.7" height="3.7"/><rect x="192.10" y="205.40" width="3.7" height="3.7"/><rect x="194.09" y="206.36" width="3.7" height="3.7"/><rect x="196.08" y="205.99" width="3.7" height="3.7"/><rect x="198.07" y="207.10" width="3.7" height="3.7"/><rect x="200.06" y="207.15" width="3.7" height="3.7"/><rect x="202.05" y="208.03" width="3.7" height="3.7"/><rect x="204.04" y="208.36" width="3.7" height="3.7"/><rect x="206.03" y="208.52" width="3.7" height="3.7"/><rect x="208.02" y="208.77" width="3.7" height="3.7"/><rect x="210.01" y="208.32" width="3.7" height="3.7"/><rect x="212.00" y="208.95" width="3.7" height="3.7"/><rect x="213.99" y="208.45" width="3.7" height="3.7"/><rect x="215.98" y="208.97" width="3.7" height="3.7"/><rect x="217.97" y="208.63" width="3.7" height="3.7"/><rect x="219.96" y="208.95" width="3.7" height="3.7"/><rect x="221.95" y="208.37" width="3.7" height="3.7"/><rect x="223.94" y="208.80" width="3.7" height="3.7"/><rect x="225.93" y="210.22" width="3.7" height="3.7"/><rect x="227.92" y="208.99" width="3.7" height="3.7"/><rect x="229.91" y="209.93" width="3.7" height="3.7"/><rect x="231.90" y="209.92" width="3.7" height="3.7"/></g>
<g fill="#3535d0"><polygon points="34.44,221.38 39.04,221.38 36.74,217.28"/><polygon points="36.43,221.06 41.03,221.06 38.73,216.96"/><polygon points="38.42,221.32 43.02,221.32 40.72,217.22"/><polygon points="40.41,220.55 45.01,220.55 42.71,216.45"/><polygon points="42.40,220.63 47.00,220.63 44.70,216.53"/><polygon points="44.39,220.90 48.99,220.90 46.69,216.80"/><polygon points="46.38,220.90 50.98,220.90 48.68,216.80"/><polygon points="48.37,220.86 52.97,220.86 50.67,216.76"/><polygon points="50.36,220.91 54.96,220.91 52.66,216.81"/><polygon points="52.35,221.59 56.95,221.59 54.65,217.49"/><polygon points="54.34,221.00 58.94,221.00 56.64,216.90"/><polygon points="56.33,222.22 60.93,222.22 58.63,218.12"/><polygon points="58.32,221.78 62.92,221.78 60.62,217.68"/><polygon points="60.31,221.53 64.91,221.53 62.61,217.43"/><polygon points="62.30,221.76 66.90,221.76 64.60,217.66"/><polygon points="64.29,221.02 68.89,221.02 66.59,216.92"/><polygon points="66.28,222.05 70.88,222.05 68.58,217.95"/><polygon points="68.27,221.88 72.87,221.88 70.57,217.78"/><polygon points="70.26,221.67 74.86,221.67 72.56,217.57"/><polygon points="72.25,221.25 76.85,221.25 74.55,217.15"/><polygon points="74.24,221.80 78.84,221.80 76.54,217.70"/><polygon points="76.23,221.61 80.83,221.61 78.53,217.51"/><polygon points="78.22,221.45 82.82,221.45 80.52,217.35"/><polygon points="80.21,221.82 84.81,221.82 82.51,217.72"/><polygon points="82.20,221.34 86.80,221.34 84.50,217.24"/><polygon points="84.19,220.88 88.79,220.88 86.49,216.78"/><polygon points="86.18,221.14 90.78,221.14 88.48,217.04"/><polygon points="88.17,220.54 92.77,220.54 90.47,216.44"/><polygon points="90.16,220.50 94.76,220.50 92.46,216.40"/><polygon points="92.15,221.32 96.75,221.32 94.45,217.22"/><polygon points="94.14,221.38 98.74,221.38 96.44,217.28"/><polygon points="96.13,221.64 100.73,221.64 98.43,217.54"/><polygon points="98.12,221.35 102.72,221.35 100.42,217.25"/><polygon points="100.11,220.75 104.71,220.75 102.41,216.65"/><polygon points="102.10,219.76 106.70,219.76 104.40,215.66"/><polygon points="104.09,220.11 108.69,220.11 106.39,216.01"/><polygon points="106.08,220.42 110.68,220.42 108.38,216.32"/><polygon points="108.07,218.94 112.67,218.94 110.37,214.84"/><polygon points="110.06,217.63 114.66,217.63 112.36,213.53"/><polygon points="112.05,216.56 116.65,216.56 114.35,212.46"/><polygon points="114.04,215.24 118.64,215.24 116.34,211.14"/><polygon points="116.03,212.51 120.63,212.51 118.33,208.41"/><polygon points="118.02,207.06 122.62,207.06 120.32,202.96"/><polygon points="120.01,199.06 124.61,199.06 122.31,194.96"/><polygon points="122.00,180.83 126.60,180.83 124.30,176.73"/><polygon points="123.99,165.47 128.59,165.47 126.29,161.37"/><polygon points="125.98,142.55 130.58,142.55 128.28,138.45"/><polygon points="127.97,114.16 132.57,114.16 130.27,110.06"/><polygon points="129.96,95.99 134.56,95.99 132.26,91.89"/><polygon points="131.95,71.50 136.55,71.50 134.25,67.40"/><polygon points="133.94,58.82 138.54,58.82 136.24,54.72"/><polygon points="135.93,53.00 140.53,53.00 138.23,48.90"/><polygon points="137.92,54.44 142.52,54.44 140.22,50.34"/><polygon points="139.91,58.65 144.51,58.65 142.21,54.55"/><polygon points="141.90,66.70 146.50,66.70 144.20,62.60"/><polygon points="143.89,79.53 148.49,79.53 146.19,75.43"/><polygon points="145.88,95.97 150.48,95.97 148.18,91.87"/><polygon points="147.87,109.99 152.47,109.99 150.17,105.89"/><polygon points="149.86,127.90 154.46,127.90 152.16,123.80"/><polygon points="151.85,142.49 156.45,142.49 154.15,138.39"/><polygon points="153.84,154.74 158.44,154.74 156.14,150.64"/><polygon points="155.83,164.19 160.43,164.19 158.13,160.09"/><polygon points="157.82,172.66 162.42,172.66 160.12,168.56"/><polygon points="159.81,180.66 164.41,180.66 162.11,176.56"/><polygon points="161.80,187.00 166.40,187.00 164.10,182.90"/><polygon points="163.79,191.03 168.39,191.03 166.09,186.93"/><polygon points="165.78,195.04 170.38,195.04 168.08,190.94"/><polygon points="167.77,198.48 172.37,198.48 170.07,194.38"/><polygon points="169.76,200.96 174.36,200.96 172.06,196.86"/><polygon points="171.75,201.70 176.35,201.70 174.05,197.60"/><polygon points="173.74,202.75 178.34,202.75 176.04,198.65"/><polygon points="175.73,203.71 180.33,203.71 178.03,199.61"/><polygon points="177.72,206.13 182.32,206.13 180.02,202.03"/><polygon points="179.71,206.44 184.31,206.44 182.01,202.34"/><polygon points="181.70,206.35 186.30,206.35 184.00,202.25"/><polygon points="183.69,207.49 188.29,207.49 185.99,203.39"/><polygon points="185.68,207.62 190.28,207.62 187.98,203.52"/><polygon points="187.67,208.39 192.27,208.39 189.97,204.29"/><polygon points="189.66,209.55 194.26,209.55 191.96,205.45"/><polygon points="191.65,209.75 196.25,209.75 193.95,205.65"/><polygon points="193.64,209.80 198.24,209.80 195.94,205.70"/><polygon points="195.63,209.80 200.23,209.80 197.93,205.70"/><polygon points="197.62,210.73 202.22,210.73 199.92,206.63"/><polygon points="199.61,211.47 204.21,211.47 201.91,207.37"/><polygon points="201.60,210.90 206.20,210.90 203.90,206.80"/><polygon points="203.59,210.57 208.19,210.57 205.89,206.47"/><polygon points="205.58,210.80 210.18,210.80 207.88,206.70"/><polygon points="207.57,211.03 212.17,211.03 209.87,206.93"/><polygon points="209.56,212.59 214.16,212.59 211.86,208.49"/><polygon points="211.55,212.08 216.15,212.08 213.85,207.98"/><polygon points="213.54,212.71 218.14,212.71 215.84,208.61"/><polygon points="215.53,211.80 220.13,211.80 217.83,207.70"/><polygon points="217.52,212.10 222.12,212.10 219.82,208.00"/><polygon points="219.51,212.91 224.11,212.91 221.81,208.81"/><polygon points="221.50,213.34 226.10,213.34 223.80,209.24"/><polygon points="223.49,212.56 228.09,212.56 225.79,208.46"/><polygon points="225.48,212.23 230.08,212.23 227.78,208.13"/><polygon points="227.47,213.61 232.07,213.61 229.77,209.51"/><polygon points="229.46,212.80 234.06,212.80 231.76,208.70"/><polygon points="231.45,213.59 236.05,213.59 233.75,209.49"/></g>
<g fill="#000"><rect x="35.14" y="212.81" width="3.2" height="3.2"/><rect x="37.13" y="212.96" width="3.2" height="3.2"/><rect x="39.12" y="212.70" width="3.2" height="3.2"/><rect x="41.11" y="213.60" width="3.2" height="3.2"/><rect x="43.10" y="214.70" width="3.2" height="3.2"/><rect x="45.09" y="214.97" width="3.2" height="3.2"/><rect x="47.08" y="213.85" width="3.2" height="3.2"/><rect x="49.07" y="214.20" width="3.2" height="3.2"/><rect x="51.06" y="214.00" width="3.2" height="3.2"/><rect x="53.05" y="214.78" width="3.2" height="3.2"/><rect x="55.04" y="214.12" width="3.2" height="3.2"/><rect x="57.03" y="214.97" width="3.2" height="3.2"/><rect x="59.02" y="215.39" width="3.2" height="3.2"/><rect x="61.01" y="214.78" width="3.2" height="3.2"/><rect x="63.00" y="215.56" width="3.2" height="3.2"/><rect x="64.99" y="215.46" width="3.2" height="3.2"/><rect x="66.98" y="214.50" width="3.2" height="3.2"/><rect x="68.97" y="215.49" width="3.2" height="3.2"/><rect x="70.96" y="214.92" width="3.2" height="3.2"/><rect x="72.95" y="215.16" width="3.2" height="3.2"/><rect x="74.94" y="214.88" width="3.2" height="3.2"/><rect x="76.93" y="215.58" width="3.2" height="3.2"/><rect x="78.92" y="215.09" width="3.2" height="3.2"/><rect x="80.91" y="214.58" width="3.2" height="3.2"/><rect x="82.90" y="215.28" width="3.2" height="3.2"/><rect x="84.89" y="215.70" width="3.2" height="3.2"/><rect x="86.88" y="214.85" width="3.2" height="3.2"/><rect x="88.87" y="214.69" width="3.2" height="3.2"/><rect x="90.86" y="214.92" width="3.2" height="3.2"/><rect x="92.85" y="215.85" width="3.2" height="3.2"/><rect x="94.84" y="215.86" width="3.2" height="3.2"/><rect x="96.83" y="215.26" width="3.2" height="3.2"/><rect x="98.82" y="215.60" width="3.2" height="3.2"/><rect x="100.81" y="215.40" width="3.2" height="3.2"/><rect x="102.80" y="214.46" width="3.2" height="3.2"/><rect x="104.79" y="213.85" width="3.2" height="3.2"/><rect x="106.78" y="214.76" width="3.2" height="3.2"/><rect x="108.77" y="214.41" width="3.2" height="3.2"/></g>
<rect x="46.8" y="32.3" width="3.7" height="3.7" fill="#000"/>
<polygon points="46.3,46.7 50.4,46.7 48.35,42.9" fill="#3535d0"/>
<text x="56.10" y="37.10" font-family='"Liberation Sans", sans-serif' font-size="8.0" font-weight="bold" text-anchor="start" fill="#111" textLength="33.6" lengthAdjust="spacingAndGlyphs">Wild-type</text>
<text x="55.80" y="48.70" font-family='"Liberation Sans", sans-serif' font-size="7.7" font-weight="bold" text-anchor="start" fill="#111" textLength="21.4" lengthAdjust="spacingAndGlyphs">C338Y</text>
<text transform="translate(246.3,13.3) scale(0.91,1)" font-family='"Liberation Sans", sans-serif' font-size="17.2" font-weight="bold" fill="#000">B</text>
<line x1="291.00" y1="23.01" x2="291.00" y2="223.50" stroke="#333" stroke-width="1.0" />
<line x1="290.50" y1="223.50" x2="515.70" y2="223.50" stroke="#333" stroke-width="1.0" />
<line x1="287.00" y1="23.51" x2="291.00" y2="23.51" stroke="#333" stroke-width="1.0" />
<text transform="translate(285.6,26.21) scale(0.86,1)" font-family='"Liberation Sans", sans-serif' font-size="7.6" text-anchor="end" fill="#222">2000</text>
<line x1="289.30" y1="38.83" x2="291.00" y2="38.83" stroke="#333" stroke-width="1.0" />
<line x1="287.00" y1="54.15" x2="291.00" y2="54.15" stroke="#333" stroke-width="1.0" />
<text transform="translate(285.6,56.85) scale(0.86,1)" font-family='"Liberation Sans", sans-serif' font-size="7.6" text-anchor="end" fill="#222">0</text>
<line x1="289.30" y1="69.47" x2="291.00" y2="69.47" stroke="#333" stroke-width="1.0" />
<line x1="287.00" y1="84.79" x2="291.00" y2="84.79" stroke="#333" stroke-width="1.0" />
<text transform="translate(285.6,87.49) scale(0.86,1)" font-family='"Liberation Sans", sans-serif' font-size="7.6" text-anchor="end" fill="#222">-2000</text>
<line x1="289.30" y1="100.11" x2="291.00" y2="100.11" stroke="#333" stroke-width="1.0" />
<line x1="287.00" y1="115.43" x2="291.00" y2="115.43" stroke="#333" stroke-width="1.0" />
<text transform="translate(285.6,118.13) scale(0.86,1)" font-family='"Liberation Sans", sans-serif' font-size="7.6" text-anchor="end" fill="#222">-4000</text>
<line x1="289.30" y1="130.75" x2="291.00" y2="130.75" stroke="#333" stroke-width="1.0" />
<line x1="287.00" y1="146.07" x2="291.00" y2="146.07" stroke="#333" stroke-width="1.0" />
<text transform="translate(285.6,148.77) scale(0.86,1)" font-family='"Liberation Sans", sans-serif' font-size="7.6" text-anchor="end" fill="#222">-6000</text>
<line x1="289.30" y1="161.39" x2="291.00" y2="161.39" stroke="#333" stroke-width="1.0" />
<line x1="287.00" y1="176.71" x2="291.00" y2="176.71" stroke="#333" stroke-width="1.0" />
<text transform="translate(285.6,179.41) scale(0.86,1)" font-family='"Liberation Sans", sans-serif' font-size="7.6" text-anchor="end" fill="#222">-8000</text>
<line x1="289.30" y1="192.03" x2="291.00" y2="192.03" stroke="#333" stroke-width="1.0" />
<line x1="287.00" y1="207.35" x2="291.00" y2="207.35" stroke="#333" stroke-width="1.0" />
<text transform="translate(285.6,210.05) scale(0.86,1)" font-family='"Liberation Sans", sans-serif' font-size="7.6" text-anchor="end" fill="#222">-10000</text>
<line x1="289.30" y1="222.67" x2="291.00" y2="222.67" stroke="#333" stroke-width="1.0" />
<line x1="290.30" y1="223.50" x2="290.30" y2="225.60" stroke="#333" stroke-width="1.0" />
<line x1="307.60" y1="223.50" x2="307.60" y2="227.40" stroke="#333" stroke-width="1.0" />
<text transform="translate(307.60,235.9) scale(0.84,1)" font-family='"Liberation Sans", sans-serif' font-size="8.0" text-anchor="middle" fill="#222">20</text>
<line x1="324.90" y1="223.50" x2="324.90" y2="225.60" stroke="#333" stroke-width="1.0" />
<line x1="342.20" y1="223.50" x2="342.20" y2="227.40" stroke="#333" stroke-width="1.0" />
<text transform="translate(342.20,235.9) scale(0.84,1)" font-family='"Liberation Sans", sans-serif' font-size="8.0" text-anchor="middle" fill="#222">30</text>
<line x1="359.50" y1="223.50" x2="359.50" y2="225.60" stroke="#333" stroke-width="1.0" />
<line x1="376.80" y1="223.50" x2="376.80" y2="227.40" stroke="#333" stroke-width="1.0" />
<text transform="translate(376.80,235.9) scale(0.84,1)" font-family='"Liberation Sans", sans-serif' font-size="8.0" text-anchor="middle" fill="#222">40</text>
<line x1="394.10" y1="223.50" x2="394.10" y2="225.60" stroke="#333" stroke-width="1.0" />
<line x1="411.40" y1="223.50" x2="411.40" y2="227.40" stroke="#333" stroke-width="1.0" />
<text transform="translate(411.40,235.9) scale(0.84,1)" font-family='"Liberation Sans", sans-serif' font-size="8.0" text-anchor="middle" fill="#222">50</text>
<line x1="428.70" y1="223.50" x2="428.70" y2="225.60" stroke="#333" stroke-width="1.0" />
<line x1="446.00" y1="223.50" x2="446.00" y2="227.40" stroke="#333" stroke-width="1.0" />
<text transform="translate(446.00,235.9) scale(0.84,1)" font-family='"Liberation Sans", sans-serif' font-size="8.0" text-anchor="middle" fill="#222">60</text>
<line x1="463.30" y1="223.50" x2="463.30" y2="225.60" stroke="#333" stroke-width="1.0" />
<line x1="480.60" y1="223.50" x2="480.60" y2="227.40" stroke="#333" stroke-width="1.0" />
<text transform="translate(480.60,235.9) scale(0.84,1)" font-family='"Liberation Sans", sans-serif' font-size="8.0" text-anchor="middle" fill="#222">70</text>
<line x1="497.90" y1="223.50" x2="497.90" y2="225.60" stroke="#333" stroke-width="1.0" />
<line x1="515.20" y1="223.50" x2="515.20" y2="227.40" stroke="#333" stroke-width="1.0" />
<text transform="translate(515.20,235.9) scale(0.84,1)" font-family='"Liberation Sans", sans-serif' font-size="8.0" text-anchor="middle" fill="#222">80</text>
<text transform="translate(498.0,248.7) scale(0.9,1)" font-family='"Liberation Serif", serif' font-size="8.9" font-weight="bold" text-anchor="middle" fill="#111">T(°C)</text>
<text transform="translate(255.5,120.1) rotate(-90)" font-family='"Liberation Serif", serif' font-size="9.8" font-weight="bold" text-anchor="middle" fill="#3a3a3a" xml:space="preserve">θ(deg cm <tspan font-size="6" dy="-3.5">2</tspan><tspan dy="3.5"> dmol </tspan><tspan font-size="6" dy="-3.5">-1</tspan><tspan dy="3.5">)</tspan></text>
<path d="M307.60,195.40 L307.84,195.37 L308.15,195.34 L308.53,195.31 L308.98,195.23 L309.50,195.10 L310.10,194.90 L310.38,194.78 L310.69,194.64 L311.02,194.48 L311.37,194.30 L311.73,194.11 L312.11,193.92 L312.49,193.71 L312.88,193.51 L313.28,193.30 L313.67,193.10 L314.07,192.91 L314.45,192.72 L314.83,192.55 L315.20,192.40 L315.57,192.25 L315.92,192.12 L316.25,192.00 L316.58,191.88 L316.89,191.78 L317.22,191.68 L317.55,191.58 L317.90,191.48 L318.28,191.37 L318.69,191.27 L319.15,191.15 L319.65,191.03 L320.20,190.90 L320.50,190.83 L320.82,190.76 L321.15,190.68 L321.50,190.61 L321.87,190.53 L322.24,190.45 L322.63,190.38 L323.02,190.29 L323.43,190.21 L323.84,190.13 L324.26,190.05 L324.68,189.97 L325.11,189.88 L325.53,189.80 L325.96,189.71 L326.39,189.63 L326.82,189.54 L327.25,189.46 L327.67,189.37 L328.08,189.29 L328.49,189.21 L328.89,189.12 L329.29,189.04 L329.67,188.96 L330.04,188.88 L330.40,188.80 L330.85,188.70 L331.30,188.59 L331.75,188.49 L332.19,188.38 L332.62,188.28 L333.05,188.17 L333.47,188.06 L333.89,187.96 L334.30,187.85 L334.71,187.75 L335.11,187.65 L335.51,187.54 L335.90,187.44 L336.29,187.35 L336.67,187.25 L337.05,187.15 L337.42,187.06 L337.78,186.97 L338.14,186.88 L338.50,186.80 L338.96,186.69 L339.41,186.59 L339.84,186.50 L340.26,186.41 L340.67,186.32 L341.08,186.24 L341.47,186.16 L341.86,186.08 L342.24,186.00 L342.61,185.92 L342.99,185.84 L343.37,185.76 L343.74,185.68 L344.12,185.59 L344.50,185.50 L344.91,185.40 L345.32,185.30 L345.72,185.19 L346.12,185.09 L346.52,184.98 L346.91,184.87 L347.31,184.76 L347.70,184.65 L348.09,184.54 L348.47,184.43 L348.86,184.33 L349.24,184.22 L349.62,184.11 L350.00,184.00 L350.40,183.89 L350.80,183.77 L351.18,183.66 L351.57,183.55 L351.95,183.45 L352.32,183.34 L352.70,183.23 L353.08,183.11 L353.47,183.00 L353.86,182.88 L354.26,182.76 L354.68,182.63 L355.10,182.50 L355.45,182.39 L355.79,182.29 L356.14,182.19 L356.48,182.08 L356.83,181.98 L357.18,181.88 L357.54,181.77 L357.90,181.66 L358.27,181.55 L358.65,181.43 L359.04,181.30 L359.44,181.16 L359.86,181.01 L360.29,180.85 L360.73,180.68 L361.20,180.50 L361.52,180.37 L361.85,180.24 L362.19,180.10 L362.53,179.96 L362.88,179.82 L363.24,179.67 L363.60,179.52 L363.97,179.36 L364.35,179.20 L364.73,179.04 L365.11,178.87 L365.50,178.70 L365.89,178.53 L366.29,178.35 L366.68,178.17 L367.08,177.99 L367.48,177.80 L367.88,177.61 L368.29,177.41 L368.69,177.22 L369.09,177.02 L369.50,176.81 L369.90,176.61 L370.30,176.40 L370.63,176.22 L370.97,176.05 L371.31,175.86 L371.66,175.68 L372.01,175.49 L372.36,175.30 L372.71,175.11 L373.07,174.91 L373.43,174.71 L373.79,174.51 L374.15,174.31 L374.51,174.11 L374.87,173.90 L375.23,173.69 L375.59,173.48 L375.95,173.27 L376.31,173.06 L376.67,172.84 L377.03,172.62 L377.38,172.41 L377.73,172.19 L378.08,171.97 L378.42,171.75 L378.76,171.52 L379.10,171.30 L379.43,171.08 L379.76,170.85 L380.08,170.63 L380.40,170.40 L380.75,170.14 L381.10,169.88 L381.44,169.61 L381.79,169.34 L382.13,169.05 L382.48,168.77 L382.81,168.48 L383.15,168.19 L383.49,167.89 L383.82,167.60 L384.14,167.30 L384.47,167.01 L384.79,166.71 L385.10,166.42 L385.42,166.13 L385.72,165.84 L386.03,165.56 L386.32,165.28 L386.62,165.00 L386.90,164.74 L387.19,164.47 L387.46,164.22 L387.73,163.98 L387.99,163.74 L388.25,163.52 L388.50,163.30 L388.91,162.95 L389.30,162.64 L389.65,162.36 L389.99,162.09 L390.31,161.85 L390.62,161.62 L390.91,161.41 L391.19,161.19 L391.47,160.98 L391.74,160.77 L392.02,160.55 L392.30,160.32 L392.59,160.07 L392.89,159.80 L393.20,159.50 L393.47,159.24 L393.73,158.97 L394.00,158.69 L394.26,158.41 L394.52,158.12 L394.79,157.83 L395.05,157.53 L395.32,157.23 L395.59,156.92 L395.86,156.61 L396.13,156.29 L396.40,155.97 L396.68,155.65 L396.95,155.32 L397.23,154.99 L397.52,154.66 L397.81,154.33 L398.10,154.00 L398.36,153.71 L398.62,153.42 L398.88,153.12 L399.15,152.82 L399.42,152.52 L399.70,152.21 L399.97,151.90 L400.25,151.59 L400.53,151.28 L400.82,150.96 L401.10,150.65 L401.38,150.33 L401.66,150.01 L401.94,149.70 L402.21,149.38 L402.49,149.06 L402.76,148.75 L403.03,148.43 L403.29,148.12 L403.55,147.81 L403.80,147.50 L404.06,147.18 L404.32,146.86 L404.58,146.54 L404.84,146.22 L405.09,145.90 L405.34,145.58 L405.59,145.26 L405.84,144.94 L406.08,144.62 L406.33,144.30 L406.56,143.98 L406.80,143.66 L407.04,143.34 L407.27,143.02 L407.50,142.70 L407.72,142.38 L407.95,142.06 L408.17,141.74 L408.39,141.42 L408.60,141.10 L408.83,140.74 L409.06,140.38 L409.29,140.02 L409.51,139.66 L409.73,139.30 L409.95,138.94 L410.16,138.58 L410.37,138.22 L410.57,137.86 L410.78,137.49 L410.98,137.13 L411.17,136.77 L411.37,136.41 L411.56,136.05 L411.75,135.68 L411.93,135.32 L412.12,134.96 L412.30,134.60 L412.49,134.23 L412.67,133.86 L412.84,133.51 L413.01,133.17 L413.17,132.83 L413.33,132.49 L413.49,132.15 L413.64,131.81 L413.80,131.46 L413.95,131.10 L414.10,130.73 L414.26,130.35 L414.42,129.95 L414.58,129.52 L414.75,129.08 L414.92,128.60 L415.10,128.10 L415.21,127.79" fill="none" stroke="#000" stroke-width="2.0" stroke-linejoin="round" stroke-linecap="round"/>
<path d="M415.21,127.79 L415.32,127.48 L415.42,127.16 L415.53,126.83 L415.65,126.49 L415.76,126.15 L415.87,125.80 L415.98,125.44 L416.10,125.08 L416.21,124.71 L416.33,124.34 L416.44,123.96 L416.56,123.58 L416.68,123.20 L416.80,122.80 L416.92,122.41 L417.03,122.01 L417.15,121.61 L417.27,121.20 L417.40,120.79 L417.52,120.38 L417.64,119.96 L417.76,119.54 L417.88,119.12 L418.01,118.70 L418.13,118.28 L418.25,117.85 L418.38,117.43 L418.50,117.00 L418.60,116.64 L418.71,116.28 L418.81,115.92 L418.92,115.55 L419.02,115.17 L419.13,114.80 L419.24,114.42 L419.35,114.04 L419.46,113.65 L419.57,113.26 L419.67,112.87 L419.78,112.48 L419.90,112.08 L420.01,111.68 L420.12,111.28 L420.23,110.88 L420.34,110.48 L420.45,110.08 L420.56,109.68 L420.67,109.27 L420.78,108.87 L420.89,108.46 L421.00,108.06 L421.11,107.66 L421.22,107.25 L421.33,106.85 L421.44,106.45 L421.55,106.05 L421.66,105.65 L421.77,105.25 L421.88,104.86 L421.98,104.47 L422.09,104.07 L422.20,103.69 L422.30,103.30 L422.41,102.90 L422.51,102.51 L422.62,102.11 L422.73,101.71 L422.84,101.30 L422.94,100.90 L423.05,100.50 L423.15,100.09 L423.26,99.69 L423.37,99.29 L423.47,98.88 L423.58,98.48 L423.68,98.08 L423.79,97.67 L423.89,97.27 L424.00,96.87 L424.10,96.47 L424.20,96.08 L424.31,95.68 L424.41,95.29 L424.51,94.90 L424.61,94.51 L424.72,94.12 L424.82,93.74 L424.92,93.36 L425.02,92.98 L425.12,92.61 L425.22,92.24 L425.31,91.87 L425.41,91.51 L425.51,91.15 L425.61,90.79 L425.70,90.45 L425.80,90.10 L425.92,89.66 L426.05,89.22 L426.17,88.79 L426.29,88.37 L426.41,87.95 L426.52,87.54 L426.64,87.13 L426.76,86.73 L426.87,86.34 L426.99,85.95 L427.10,85.56 L427.21,85.18 L427.33,84.80 L427.44,84.42 L427.55,84.05 L427.66,83.68 L427.77,83.31 L427.89,82.94 L428.00,82.57 L428.11,82.21 L428.22,81.84 L428.34,81.47 L428.45,81.11 L428.57,80.74 L428.68,80.37 L428.80,80.00 L428.93,79.60 L429.06,79.20 L429.19,78.80 L429.32,78.41 L429.45,78.02 L429.58,77.63 L429.72,77.24 L429.85,76.86 L429.99,76.47 L430.12,76.09 L430.25,75.71 L430.39,75.33 L430.52,74.95 L430.65,74.57 L430.78,74.19 L430.91,73.81 L431.04,73.43 L431.17,73.06 L431.30,72.68 L431.42,72.31 L431.55,71.93 L431.67,71.55 L431.78,71.18 L431.90,70.80 L432.02,70.40 L432.13,70.00 L432.25,69.60 L432.36,69.19 L432.47,68.79 L432.58,68.38 L432.68,67.97 L432.79,67.56 L432.89,67.15 L432.99,66.74 L433.09,66.33 L433.19,65.93 L433.29,65.53 L433.39,65.14 L433.49,64.75 L433.59,64.36 L433.69,63.99 L433.79,63.62 L433.89,63.25 L433.99,62.90 L434.09,62.56 L434.20,62.22 L434.30,61.90" fill="none" stroke="#000" stroke-width="1.9" stroke-dasharray="1.5 1.0"/>
<path d="M434.30,61.90 L434.46,61.42 L434.62,60.96 L434.78,60.52 L434.94,60.10 L435.10,59.69 L435.26,59.29 L435.42,58.91 L435.58,58.53 L435.74,58.18 L435.90,57.83 L436.06,57.49 L436.22,57.15 L436.38,56.83 L436.54,56.51 L436.70,56.20 L436.94,55.75 L437.17,55.32 L437.39,54.92 L437.62,54.54 L437.84,54.18 L438.08,53.83 L438.31,53.50 L438.56,53.19 L438.82,52.89 L439.10,52.60 L439.43,52.29 L439.77,52.01 L440.14,51.75 L440.51,51.50 L440.89,51.28 L441.27,51.06 L441.66,50.86 L442.03,50.68 L442.40,50.50 L442.80,50.32 L443.18,50.17 L443.55,50.03 L443.93,49.91 L444.32,49.80 L444.72,49.70 L445.14,49.60 L445.60,49.50 L445.95,49.42 L446.30,49.35 L446.66,49.28 L447.02,49.21 L447.40,49.15 L447.79,49.09 L448.19,49.03 L448.62,48.97 L449.06,48.91 L449.52,48.85 L450.00,48.80 L450.34,48.76 L450.68,48.72 L451.02,48.68 L451.36,48.64 L451.70,48.60 L452.06,48.56 L452.42,48.52 L452.80,48.49 L453.19,48.45 L453.60,48.42 L454.02,48.39 L454.47,48.36 L454.94,48.34 L455.43,48.32 L455.95,48.31 L456.50,48.30 L456.82,48.30 L457.15,48.30 L457.49,48.30 L457.84,48.31 L458.20,48.32 L458.57,48.33 L458.95,48.34 L459.33,48.35 L459.73,48.37 L460.13,48.38 L460.53,48.40 L460.94,48.42 L461.36,48.44 L461.78,48.45 L462.20,48.47 L462.62,48.49 L463.05,48.51 L463.48,48.52 L463.91,48.54 L464.34,48.55 L464.77,48.57 L465.19,48.58 L465.62,48.59 L466.04,48.60 L466.46,48.60 L466.88,48.61 L467.29,48.61 L467.70,48.61 L468.10,48.60 L468.51,48.59 L468.92,48.58 L469.34,48.57 L469.75,48.55 L470.16,48.54 L470.57,48.52 L470.98,48.50 L471.39,48.48 L471.80,48.45 L472.21,48.43 L472.62,48.40 L473.03,48.38 L473.44,48.35 L473.85,48.32 L474.26,48.29 L474.67,48.26 L475.08,48.23 L475.49,48.20 L475.90,48.17 L476.31,48.14 L476.72,48.11 L477.13,48.07 L477.54,48.04 L477.95,48.01 L478.36,47.98 L478.78,47.96 L479.19,47.93 L479.60,47.90 L480.00,47.87 L480.41,47.84 L480.83,47.82 L481.25,47.78 L481.68,47.75 L482.11,47.72 L482.54,47.69 L482.98,47.65 L483.42,47.62 L483.86,47.58 L484.30,47.55 L484.73,47.51 L485.17,47.48 L485.60,47.44 L486.03,47.41 L486.46,47.38 L486.88,47.34 L487.29,47.31 L487.70,47.28 L488.10,47.26 L488.49,47.23 L488.87,47.21 L489.24,47.18 L489.60,47.16 L489.95,47.14 L490.28,47.13 L490.60,47.12 L490.91,47.11 L491.20,47.10 L491.85,47.10 L492.42,47.11 L492.94,47.13 L493.40,47.16 L493.82,47.21 L494.19,47.26 L494.54,47.31 L494.85,47.37 L495.15,47.43 L495.43,47.49 L495.72,47.55 L496.00,47.60 L496.63,47.74 L497.14,47.90 L497.54,48.06 L497.86,48.20 L498.10,48.30" fill="none" stroke="#000" stroke-width="2.0" stroke-linejoin="round" stroke-linecap="round"/>
<path d="M307.90,196.40 L308.11,196.53 L308.36,196.73 L308.68,196.96 L309.07,197.18 L309.54,197.37 L310.10,197.50 L310.42,197.54 L310.78,197.56 L311.17,197.58 L311.59,197.59 L312.02,197.59 L312.48,197.58 L312.94,197.57 L313.40,197.54 L313.86,197.52 L314.32,197.48 L314.77,197.44 L315.20,197.40 L315.60,197.35 L315.98,197.30 L316.34,197.25 L316.68,197.19 L317.03,197.12 L317.38,197.05 L317.75,196.97 L318.15,196.88 L318.59,196.78 L319.07,196.66 L319.60,196.54 L320.20,196.40 L320.50,196.33 L320.82,196.26 L321.15,196.18 L321.50,196.10 L321.87,196.02 L322.24,195.94 L322.63,195.85 L323.02,195.76 L323.43,195.67 L323.84,195.57 L324.26,195.47 L324.68,195.38 L325.11,195.28 L325.53,195.17 L325.96,195.07 L326.39,194.97 L326.82,194.86 L327.25,194.76 L327.67,194.65 L328.08,194.54 L328.49,194.43 L328.89,194.33 L329.29,194.22 L329.67,194.11 L330.04,194.01 L330.40,193.90 L330.83,193.77 L331.26,193.63 L331.68,193.49 L332.10,193.35 L332.51,193.21 L332.91,193.06 L333.31,192.91 L333.71,192.77 L334.10,192.62 L334.49,192.47 L334.87,192.32 L335.25,192.17 L335.63,192.02 L336.00,191.87 L336.36,191.73 L336.73,191.58 L337.09,191.44 L337.45,191.30 L337.80,191.16 L338.15,191.03 L338.50,190.90 L338.93,190.74 L339.35,190.59 L339.76,190.43 L340.17,190.28 L340.57,190.13 L340.97,189.98 L341.37,189.83 L341.75,189.69 L342.13,189.55 L342.51,189.41 L342.88,189.27 L343.25,189.14 L343.61,189.00 L343.96,188.87 L344.31,188.75 L344.66,188.62 L345.00,188.50 L345.43,188.35 L345.85,188.21 L346.25,188.07 L346.65,187.94 L347.03,187.82 L347.40,187.70 L347.77,187.58 L348.14,187.47 L348.50,187.34 L348.87,187.22 L349.24,187.09 L349.62,186.95 L350.00,186.80 L350.39,186.65 L350.77,186.49 L351.15,186.33 L351.53,186.18 L351.91,186.01 L352.29,185.85 L352.67,185.68 L353.06,185.50 L353.45,185.32 L353.85,185.12 L354.26,184.93 L354.67,184.72 L355.10,184.50 L355.43,184.33 L355.75,184.17 L356.08,184.02 L356.40,183.87 L356.73,183.71 L357.06,183.56 L357.39,183.40 L357.73,183.23 L358.07,183.05 L358.42,182.86 L358.79,182.66 L359.16,182.44 L359.54,182.20 L359.93,181.94 L360.34,181.65 L360.76,181.34 L361.20,181.00 L361.45,180.80 L361.70,180.59 L361.96,180.37 L362.22,180.14 L362.49,179.91 L362.76,179.66 L363.03,179.41 L363.31,179.16 L363.59,178.89 L363.88,178.62 L364.17,178.35 L364.46,178.06 L364.75,177.78 L365.05,177.49 L365.35,177.20 L365.65,176.90 L365.95,176.60 L366.26,176.30 L366.57,176.00 L366.88,175.70 L367.18,175.39 L367.50,175.09 L367.81,174.78 L368.12,174.48 L368.43,174.17 L368.74,173.87 L369.06,173.57 L369.37,173.27 L369.68,172.98 L369.99,172.69 L370.30,172.40 L370.59,172.13 L370.89,171.86 L371.19,171.59 L371.49,171.31 L371.80,171.04 L372.10,170.76 L372.41,170.48 L372.72,170.21 L373.04,169.93 L373.35,169.65 L373.67,169.37 L373.98,169.09 L374.30,168.80 L374.62,168.52 L374.94,168.24 L375.25,167.96 L375.57,167.68 L375.89,167.40 L376.20,167.12 L376.52,166.84 L376.83,166.56 L377.14,166.28 L377.45,166.00 L377.76,165.72 L378.07,165.45 L378.37,165.17 L378.67,164.90 L378.97,164.63 L379.26,164.36 L379.55,164.09 L379.84,163.83 L380.12,163.56 L380.40,163.30 L380.72,162.99 L381.05,162.69 L381.37,162.38 L381.68,162.07 L382.00,161.77 L382.31,161.46 L382.63,161.16 L382.94,160.85 L383.24,160.55 L383.55,160.25 L383.85,159.95 L384.15,159.65 L384.44,159.36 L384.74,159.06 L385.03,158.77 L385.32,158.48 L385.60,158.19 L385.88,157.90 L386.16,157.62 L386.43,157.34 L386.70,157.06 L386.97,156.79 L387.24,156.51 L387.50,156.24 L387.75,155.98 L388.01,155.71 L388.26,155.46 L388.50,155.20 L388.84,154.85 L389.16,154.51 L389.48,154.17 L389.79,153.84 L390.09,153.52 L390.39,153.21 L390.67,152.90 L390.95,152.59 L391.23,152.29 L391.50,151.99 L391.77,151.70 L392.03,151.41 L392.28,151.12 L392.53,150.83 L392.78,150.54 L393.03,150.26 L393.28,149.97 L393.52,149.68 L393.76,149.39 L394.00,149.10 L394.28,148.76 L394.55,148.42 L394.82,148.08 L395.08,147.75 L395.34,147.42 L395.59,147.09 L395.83,146.76 L396.07,146.44 L396.31,146.11 L396.55,145.79 L396.78,145.46 L397.00,145.14 L397.23,144.81 L397.45,144.49 L397.67,144.16 L397.88,143.83 L398.10,143.50 L398.33,143.15 L398.55,142.80 L398.77,142.46 L398.98,142.12 L399.19,141.78 L399.40,141.44 L399.60,141.10 L399.80,140.76 L400.00,140.41 L400.19,140.06 L400.38,139.70 L400.57,139.34 L400.76,138.97 L400.94,138.59 L401.12,138.20 L401.30,137.80 L401.45,137.45 L401.60,137.10 L401.74,136.73 L401.88,136.35 L402.02,135.97 L402.16,135.59 L402.29,135.19 L402.43,134.80 L402.56,134.40 L402.69,134.00 L402.82,133.60 L402.95,133.20 L403.07,132.80 L403.20,132.40 L403.32,132.01 L403.44,131.62 L403.56,131.24 L403.68,130.87 L403.80,130.50 L403.93,130.10 L404.06,129.69 L404.19,129.29 L404.31,128.89 L404.43,128.50 L404.55,128.11 L404.67,127.72" fill="none" stroke="#2a2adc" stroke-width="2.0" stroke-linejoin="round" stroke-linecap="round"/>
<path d="M404.67,127.72 L404.79,127.33 L404.90,126.95 L405.02,126.57 L405.13,126.19 L405.24,125.81 L405.35,125.44 L405.47,125.08 L405.58,124.71 L405.69,124.35 L405.80,124.00 L405.93,123.59 L406.05,123.23 L406.17,122.89 L406.28,122.58 L406.39,122.28 L406.50,121.98 L406.61,121.67 L406.72,121.34 L406.84,120.99 L406.97,120.60 L407.11,120.17 L407.26,119.68 L407.42,119.13 L407.60,118.50 L407.68,118.22 L407.76,117.93 L407.84,117.62 L407.93,117.31 L408.02,116.99 L408.11,116.66 L408.20,116.32 L408.29,115.97 L408.39,115.61 L408.49,115.24 L408.59,114.87 L408.69,114.49 L408.79,114.10 L408.89,113.71 L408.99,113.32 L409.10,112.91 L409.21,112.51 L409.31,112.10 L409.42,111.68 L409.53,111.26 L409.64,110.84 L409.75,110.42 L409.86,109.99 L409.97,109.56 L410.09,109.14 L410.20,108.71 L410.31,108.28 L410.42,107.85 L410.54,107.42 L410.65,106.99 L410.76,106.57 L410.88,106.14 L410.99,105.72 L411.10,105.30 L411.20,104.93 L411.30,104.56 L411.40,104.18 L411.50,103.80 L411.60,103.41 L411.71,103.02 L411.81,102.63 L411.92,102.23 L412.03,101.82 L412.14,101.42 L412.24,101.01 L412.35,100.60 L412.46,100.19 L412.57,99.78 L412.68,99.37 L412.79,98.95 L412.90,98.54 L413.02,98.13 L413.13,97.71 L413.24,97.30 L413.35,96.89 L413.46,96.48 L413.57,96.07 L413.68,95.67 L413.78,95.26 L413.89,94.86 L414.00,94.47 L414.11,94.07 L414.21,93.68 L414.32,93.30 L414.42,92.92 L414.52,92.55 L414.62,92.18 L414.72,91.81 L414.82,91.46 L414.92,91.11 L415.01,90.76 L415.11,90.43 L415.20,90.10 L415.34,89.62 L415.47,89.15 L415.60,88.70 L415.73,88.26 L415.86,87.82 L415.98,87.40 L416.11,86.99 L416.23,86.59 L416.35,86.19 L416.47,85.80 L416.58,85.42 L416.70,85.05 L416.81,84.67 L416.93,84.31 L417.04,83.95 L417.15,83.59 L417.26,83.23 L417.36,82.87 L417.47,82.52 L417.58,82.16 L417.68,81.81 L417.79,81.45 L417.89,81.09 L418.00,80.73 L418.10,80.37 L418.20,80.00 L418.31,79.58 L418.42,79.16 L418.53,78.73 L418.64,78.30 L418.74,77.88 L418.84,77.45 L418.95,77.02 L419.04,76.60 L419.14,76.17 L419.24,75.75 L419.33,75.33 L419.43,74.92 L419.52,74.51 L419.62,74.10 L419.71,73.71 L419.81,73.31 L419.90,72.93 L420.00,72.55 L420.10,72.18 L420.20,71.82 L420.30,71.47 L420.40,71.13 L420.50,70.80 L420.66,70.32 L420.81,69.86 L420.96,69.42 L421.11,69.01 L421.26,68.61 L421.41,68.23 L421.57,67.86" fill="none" stroke="#2a2adc" stroke-width="1.9" stroke-dasharray="1.5 1.0"/>
<path d="M421.57,67.86 L421.72,67.50 L421.88,67.15 L422.05,66.81 L422.22,66.47 L422.40,66.13 L422.59,65.79 L422.79,65.45 L423.00,65.10 L423.22,64.74 L423.46,64.39 L423.70,64.03 L423.96,63.67 L424.22,63.31 L424.49,62.96 L424.76,62.62 L425.04,62.27 L425.32,61.94 L425.60,61.62 L425.89,61.31 L426.17,61.01 L426.45,60.72 L426.73,60.45 L427.00,60.20 L427.37,59.88 L427.73,59.60 L428.09,59.34 L428.45,59.11 L428.82,58.89 L429.18,58.70 L429.55,58.51 L429.93,58.33 L430.31,58.15 L430.70,57.98 L431.10,57.80 L431.48,57.64 L431.86,57.48 L432.25,57.32 L432.64,57.17 L433.05,57.03 L433.45,56.89 L433.86,56.76 L434.27,56.64 L434.68,56.52 L435.09,56.41 L435.49,56.30 L435.90,56.20 L436.31,56.11 L436.73,56.02 L437.16,55.93 L437.59,55.85 L438.02,55.77 L438.45,55.71 L438.87,55.65 L439.29,55.60 L439.69,55.56 L440.08,55.53 L440.45,55.51 L440.80,55.50 L441.28,55.52 L441.72,55.58 L442.12,55.67 L442.51,55.78 L442.87,55.90 L443.24,56.01 L443.61,56.12 L444.00,56.20 L444.40,56.28 L444.81,56.36 L445.22,56.44 L445.62,56.52 L446.03,56.58 L446.43,56.62 L446.82,56.63 L447.20,56.60 L447.59,56.51 L447.92,56.36 L448.23,56.18 L448.56,55.97 L448.94,55.76 L449.41,55.56 L450.00,55.40 L450.31,55.34 L450.64,55.27 L451.00,55.21 L451.38,55.14 L451.78,55.07 L452.20,55.01 L452.63,54.95 L453.06,54.89 L453.51,54.83 L453.95,54.78 L454.40,54.73 L454.84,54.69 L455.27,54.66 L455.70,54.63 L456.11,54.61 L456.50,54.60 L456.93,54.60 L457.35,54.60 L457.75,54.62 L458.14,54.64 L458.53,54.67 L458.91,54.70 L459.30,54.74 L459.69,54.79 L460.09,54.85 L460.50,54.91 L460.92,54.97 L461.36,55.04 L461.82,55.12 L462.30,55.20 L462.65,55.26 L463.01,55.33 L463.38,55.41 L463.76,55.50 L464.14,55.59 L464.53,55.69 L464.92,55.79 L465.32,55.89 L465.73,56.00 L466.14,56.10 L466.55,56.20 L466.97,56.30 L467.39,56.40 L467.82,56.50 L468.24,56.58 L468.67,56.66 L469.10,56.74 L469.54,56.80 L469.97,56.86 L470.40,56.90 L470.78,56.93 L471.17,56.95 L471.57,56.96 L471.98,56.97 L472.39,56.98 L472.81,56.97 L473.23,56.97 L473.65,56.96 L474.08,56.94 L474.51,56.92 L474.93,56.90 L475.36,56.88 L475.78,56.86 L476.20,56.84 L476.61,56.81 L477.01,56.79 L477.41,56.77 L477.81,56.75 L478.19,56.73 L478.56,56.72 L478.92,56.71 L479.27,56.70 L479.60,56.70 L480.12,56.70 L480.61,56.70 L481.07,56.70 L481.50,56.70 L481.92,56.70 L482.32,56.71 L482.71,56.71 L483.09,56.72 L483.47,56.74 L483.84,56.76 L484.22,56.78 L484.60,56.82 L484.99,56.85 L485.40,56.90 L485.82,56.96 L486.24,57.04 L486.66,57.13 L487.09,57.23 L487.52,57.34 L487.95,57.45 L488.37,57.57 L488.80,57.68 L489.22,57.79 L489.63,57.88 L490.04,57.96 L490.43,58.03 L490.82,58.08 L491.20,58.10 L491.67,58.10 L492.13,58.07 L492.59,58.03 L493.03,57.96 L493.47,57.88 L493.89,57.78 L494.30,57.67 L494.70,57.56 L495.08,57.44 L495.45,57.32 L495.80,57.20 L496.26,57.01 L496.71,56.79 L497.14,56.55 L497.54,56.29 L497.90,56.05 L498.22,55.82 L498.49,55.64 L498.70,55.50" fill="none" stroke="#2a2adc" stroke-width="2.0" stroke-linejoin="round" stroke-linecap="round"/>
<rect x="458.4" y="176.5" width="2.1" height="2.1" fill="#000"/>
<rect x="458.4" y="189.3" width="2.1" height="2.1" fill="#4848b0"/>
<text x="470.40" y="180.90" font-family='"Liberation Sans", sans-serif' font-size="8.5" font-weight="bold" text-anchor="start" fill="#111" textLength="35.6" lengthAdjust="spacingAndGlyphs">Wild-type</text>
<text x="470.40" y="192.40" font-family='"Liberation Sans", sans-serif' font-size="8.0" font-weight="bold" text-anchor="start" fill="#111" textLength="24.3" lengthAdjust="spacingAndGlyphs">C338Y</text>
<line x1="313.40" y1="24.00" x2="313.40" y2="100.50" stroke="#555" stroke-width="0.7" />
<line x1="313.40" y1="100.50" x2="391.70" y2="100.50" stroke="#555" stroke-width="0.7" />
<line x1="312.20" y1="24.40" x2="313.40" y2="24.40" stroke="#555" stroke-width="0.6" />
<text x="311.60" y="25.90" font-family='"Liberation Serif", serif' font-size="4.5" font-weight="normal" text-anchor="end" fill="#1a1a1a" >1000</text>
<line x1="312.20" y1="33.38" x2="313.40" y2="33.38" stroke="#555" stroke-width="0.6" />
<text x="311.60" y="34.88" font-family='"Liberation Serif", serif' font-size="4.5" font-weight="normal" text-anchor="end" fill="#1a1a1a" >800</text>
<line x1="312.20" y1="42.36" x2="313.40" y2="42.36" stroke="#555" stroke-width="0.6" />
<text x="311.60" y="43.86" font-family='"Liberation Serif", serif' font-size="4.5" font-weight="normal" text-anchor="end" fill="#1a1a1a" >600</text>
<line x1="312.20" y1="51.34" x2="313.40" y2="51.34" stroke="#555" stroke-width="0.6" />
<text x="311.60" y="52.84" font-family='"Liberation Serif", serif' font-size="4.5" font-weight="normal" text-anchor="end" fill="#1a1a1a" >400</text>
<line x1="312.20" y1="60.32" x2="313.40" y2="60.32" stroke="#555" stroke-width="0.6" />
<text x="311.60" y="61.82" font-family='"Liberation Serif", serif' font-size="4.5" font-weight="normal" text-anchor="end" fill="#1a1a1a" >200</text>
<line x1="312.20" y1="69.30" x2="313.40" y2="69.30" stroke="#555" stroke-width="0.6" />
<text x="311.60" y="70.80" font-family='"Liberation Serif", serif' font-size="4.5" font-weight="normal" text-anchor="end" fill="#1a1a1a" >0</text>
<line x1="312.20" y1="78.28" x2="313.40" y2="78.28" stroke="#555" stroke-width="0.6" />
<text x="311.60" y="79.78" font-family='"Liberation Serif", serif' font-size="4.5" font-weight="normal" text-anchor="end" fill="#1a1a1a" >-200</text>
<line x1="312.20" y1="87.26" x2="313.40" y2="87.26" stroke="#555" stroke-width="0.6" />
<text x="311.60" y="88.76" font-family='"Liberation Serif", serif' font-size="4.5" font-weight="normal" text-anchor="end" fill="#1a1a1a" >-400</text>
<line x1="312.20" y1="96.24" x2="313.40" y2="96.24" stroke="#555" stroke-width="0.6" />
<text x="311.60" y="97.74" font-family='"Liberation Serif", serif' font-size="4.5" font-weight="normal" text-anchor="end" fill="#1a1a1a" >-600</text>
<line x1="320.40" y1="100.50" x2="320.40" y2="101.70" stroke="#555" stroke-width="0.6" />
<text x="320.40" y="106.30" font-family='"Liberation Serif", serif' font-size="4.3" font-weight="normal" text-anchor="middle" fill="#1a1a1a" >200</text>
<line x1="333.60" y1="100.50" x2="333.60" y2="101.70" stroke="#555" stroke-width="0.6" />
<text x="333.60" y="106.30" font-family='"Liberation Serif", serif' font-size="4.3" font-weight="normal" text-anchor="middle" fill="#1a1a1a" >210</text>
<line x1="346.80" y1="100.50" x2="346.80" y2="101.70" stroke="#555" stroke-width="0.6" />
<text x="346.80" y="106.30" font-family='"Liberation Serif", serif' font-size="4.3" font-weight="normal" text-anchor="middle" fill="#1a1a1a" >220</text>
<line x1="360.00" y1="100.50" x2="360.00" y2="101.70" stroke="#555" stroke-width="0.6" />
<text x="360.00" y="106.30" font-family='"Liberation Serif", serif' font-size="4.3" font-weight="normal" text-anchor="middle" fill="#1a1a1a" >230</text>
<line x1="373.20" y1="100.50" x2="373.20" y2="101.70" stroke="#555" stroke-width="0.6" />
<text x="373.20" y="106.30" font-family='"Liberation Serif", serif' font-size="4.3" font-weight="normal" text-anchor="middle" fill="#1a1a1a" >240</text>
<line x1="386.40" y1="100.50" x2="386.40" y2="101.70" stroke="#555" stroke-width="0.6" />
<text x="386.40" y="106.30" font-family='"Liberation Serif", serif' font-size="4.3" font-weight="normal" text-anchor="middle" fill="#1a1a1a" >250</text>
<text x="372.20" y="113.70" font-family='"Liberation Serif", serif' font-size="5.4" font-weight="bold" text-anchor="middle" fill="#111" >Wavelength (nm)</text>
<text transform="translate(300.6,61.8) rotate(-90)" font-family='"Liberation Serif", serif' font-size="4.9" font-weight="bold" text-anchor="middle" fill="#111">θ(deg cm² dmol⁻¹)</text>
<path d="M313.80,29.60 L313.85,29.78 L313.92,30.03 L314.01,30.32 L314.10,30.64 L314.20,30.98 L314.30,31.33 L314.41,31.65 L314.51,31.95 L314.60,32.20 L314.76,32.59 L314.92,32.93 L315.08,33.23 L315.24,33.45 L315.40,33.60 L315.79,33.24 L316.20,33.20 L316.26,33.36 L316.33,33.55 L316.39,33.77 L316.45,34.01 L316.51,34.29 L316.57,34.59" fill="none" stroke="#2a2a98" stroke-width="1.1"/>
<path d="M316.45,34.01 L316.51,34.29 L316.57,34.59 L316.64,34.91 L316.71,35.26 L316.78,35.62 L316.85,36.00 L316.93,36.39 L317.01,36.79 L317.10,37.20 L317.15,37.44 L317.21,37.69 L317.27,37.95 L317.33,38.22 L317.39,38.49 L317.46,38.77 L317.52,39.06 L317.59,39.36 L317.66,39.66 L317.73,39.96 L317.80,40.27 L317.87,40.58 L317.94,40.89 L318.01,41.21 L318.08,41.52 L318.15,41.84 L318.21,42.16 L318.28,42.47 L318.35,42.78 L318.41,43.09 L318.48,43.40 L318.54,43.70 L318.60,44.00 L318.66,44.30 L318.71,44.59 L318.77,44.89 L318.82,45.18 L318.87,45.48 L318.92,45.77 L318.97,46.07 L319.02,46.36 L319.07,46.66 L319.12,46.95 L319.17,47.25 L319.22,47.54 L319.27,47.84 L319.32,48.13 L319.36,48.43 L319.41,48.72 L319.47,49.02 L319.52,49.32 L319.57,49.61 L319.63,49.91 L319.68,50.21 L319.74,50.50 L319.80,50.80 L319.86,51.10 L319.93,51.40 L319.99,51.71 L320.06,52.01 L320.13,52.32 L320.20,52.63 L320.28,52.94 L320.35,53.26 L320.43,53.57 L320.50,53.88 L320.57,54.19 L320.65,54.50 L320.72,54.81 L320.80,55.11 L320.87,55.41 L320.94,55.71 L321.02,56.01 L321.08,56.30 L321.15,56.59 L321.22,56.88 L321.28,57.16 L321.34,57.43 L321.40,57.70 L321.47,58.05 L321.54,58.38 L321.61,58.70 L321.67,59.01 L321.73,59.31 L321.79,59.60 L321.84,59.88 L321.90,60.16 L321.95,60.45 L322.00,60.73 L322.06,61.02 L322.11,61.32 L322.16,61.63 L322.22,61.95 L322.28,62.28 L322.34,62.63 L322.40,63.00 L322.44,63.26 L322.49,63.53 L322.53,63.82 L322.58,64.10 L322.62,64.40 L322.67,64.70 L322.71,65.01 L322.76,65.32 L322.80,65.63 L322.85,65.95 L322.90,66.27 L322.95,66.59 L322.99,66.92 L323.04,67.24 L323.09,67.56 L323.14,67.89 L323.19,68.21 L323.24,68.52 L323.29,68.84 L323.34,69.15 L323.39,69.45 L323.44,69.75 L323.49,70.04 L323.55,70.32 L323.60,70.60 L323.67,70.94 L323.74,71.26 L323.81,71.59 L323.89,71.90 L323.96,72.21 L324.04,72.51 L324.12,72.81 L324.20,73.11 L324.28,73.40 L324.36,73.69 L324.44,73.98 L324.51,74.27 L324.59,74.56 L324.67,74.84 L324.75,75.13 L324.82,75.42 L324.89,75.71 L324.96,76.00 L325.03,76.30 L325.10,76.60 L325.16,76.90 L325.22,77.21 L325.28,77.52 L325.33,77.83 L325.39,78.14 L325.44,78.45 L325.49,78.76 L325.54,79.07 L325.58,79.38 L325.63,79.69 L325.68,80.00 L325.73,80.31 L325.78,80.62 L325.83,80.93 L325.89,81.23 L325.94,81.53 L326.00,81.83 L326.06,82.12 L326.13,82.41 L326.20,82.70 L326.28,83.02 L326.36,83.33" fill="none" stroke="#5a5aa8" stroke-width="1.0" stroke-dasharray="0.9 2.2"/>
<path d="M326.20,82.70 L326.28,83.02 L326.36,83.33 L326.45,83.65 L326.53,83.96 L326.62,84.28 L326.71,84.59 L326.80,84.90 L326.90,85.20 L326.99,85.51 L327.09,85.80 L327.20,86.10 L327.30,86.39 L327.41,86.67 L327.52,86.95 L327.63,87.22 L327.75,87.49 L327.87,87.75 L328.00,88.00 L328.16,88.29 L328.32,88.59 L328.48,88.87 L328.65,89.15 L328.83,89.42 L329.00,89.69 L329.19,89.94 L329.38,90.19 L329.57,90.43 L329.76,90.66 L329.96,90.87 L330.17,91.07 L330.37,91.26 L330.59,91.44 L330.80,91.60 L331.08,91.78 L331.37,91.93 L331.67,92.06 L331.98,92.17 L332.30,92.27 L332.62,92.34 L332.94,92.41 L333.26,92.46 L333.58,92.50 L333.90,92.54 L334.20,92.57 L334.50,92.60 L334.81,92.62 L335.11,92.61 L335.41,92.58 L335.70,92.54 L335.98,92.48 L336.27,92.43 L336.56,92.38 L336.85,92.33 L337.16,92.30 L337.47,92.29 L337.80,92.30 L338.09,92.33 L338.38,92.37 L338.68,92.43 L338.98,92.49 L339.28,92.57 L339.59,92.65 L339.91,92.73 L340.23,92.81 L340.55,92.90 L340.88,92.98 L341.22,93.06 L341.56,93.13 L341.90,93.20 L342.19,93.25 L342.48,93.31 L342.78,93.38 L343.09,93.44 L343.40,93.51 L343.71,93.58 L344.03,93.64 L344.35,93.71 L344.67,93.76 L344.99,93.81 L345.30,93.86 L345.61,93.89 L345.92,93.91 L346.22,93.92 L346.51,93.92 L346.80,93.90 L347.11,93.87 L347.41,93.84 L347.70,93.81 L347.98,93.77 L348.26,93.72 L348.53,93.66 L348.80,93.59 L349.07,93.49 L349.35,93.37 L349.64,93.23 L349.93,93.05 L350.24,92.84 L350.56,92.59 L350.90,92.30 L351.06,92.15 L351.23,91.99 L351.40,91.82 L351.57,91.64 L351.74,91.46 L351.91,91.26 L352.09,91.06 L352.26,90.85 L352.44,90.63 L352.62,90.41 L352.80,90.18 L352.99,89.95 L353.17,89.71 L353.36,89.46 L353.55,89.21 L353.74,88.96 L353.93,88.70 L354.13,88.44 L354.32,88.18 L354.52,87.91 L354.72,87.64 L354.92,87.37 L355.13,87.10 L355.33,86.83 L355.54,86.56 L355.75,86.28 L355.96,86.01 L356.17,85.74 L356.38,85.47 L356.60,85.20 L356.77,84.99 L356.95,84.77 L357.12,84.54 L357.30,84.32 L357.48,84.09 L357.66,83.85 L357.85,83.61 L358.03,83.37 L358.22,83.13 L358.40,82.88 L358.59,82.64 L358.78,82.39 L358.98,82.13 L359.17,81.88 L359.36,81.63 L359.56,81.38 L359.75,81.12 L359.95,80.87 L360.14,80.61 L360.34,80.36 L360.54,80.11 L360.74,79.85 L360.94,79.60 L361.13,79.35 L361.33,79.11 L361.53,78.86 L361.73,78.62 L361.93,78.38 L362.13,78.14 L362.33,77.91 L362.53,77.68 L362.72,77.46 L362.92,77.23 L363.12,77.02 L363.32,76.81 L363.51,76.60 L363.71,76.40 L363.90,76.20 L364.14,75.96 L364.38,75.73 L364.62,75.50 L364.86,75.28 L365.11,75.05 L365.35,74.83 L365.60,74.62 L365.84,74.41 L366.09,74.20 L366.34,73.99 L366.59,73.79 L366.84,73.59 L367.08,73.39 L367.33,73.20 L367.58,73.01 L367.82,72.83 L368.07,72.65 L368.31,72.47 L368.55,72.29 L368.80,72.12 L369.04,71.96 L369.27,71.79 L369.51,71.63 L369.74,71.48 L369.97,71.33 L370.20,71.18 L370.43,71.04 L370.65,70.90 L370.87,70.76 L371.09,70.63 L371.30,70.50 L371.62,70.31 L371.93,70.14 L372.24,69.98 L372.53,69.83 L372.82,69.70 L373.11,69.57 L373.38,69.46 L373.66,69.35 L373.93,69.25 L374.20,69.16 L374.47,69.08 L374.74,69.00 L375.01,68.92 L375.28,68.84 L375.55,68.77 L375.83,68.70 L376.11,68.63 L376.40,68.55 L376.70,68.48 L377.00,68.40 L377.29,68.33 L377.59,68.26 L377.91,68.19 L378.23,68.12 L378.57,68.06 L378.91,68.00 L379.26,67.94 L379.61,67.88 L379.96,67.82 L380.31,67.77 L380.66,67.72 L381.00,67.67 L381.33,67.62 L381.65,67.58 L381.96,67.53 L382.25,67.49 L382.53,67.46 L382.79,67.42 L383.03,67.39 L383.24,67.35 L383.44,67.33 L383.60,67.30" fill="none" stroke="#2a2a98" stroke-width="1.25" stroke-linejoin="round"/>
<text transform="translate(0.35,268.5) scale(0.88,1)" font-family='"Liberation Sans", sans-serif' font-size="18.8" font-weight="bold" fill="#000">C</text>
<text transform="translate(14.3,329.7) rotate(-90)" font-family='"Liberation Serif", serif' font-size="9.4" font-weight="bold" text-anchor="middle" fill="#111">μmol•min<tspan font-size="5.8" dy="-3.5">-1</tspan></text>
<rect x="37.3" y="299.2" width="40.5" height="151.3" fill="#c6d3d3"/>
<line x1="37.30" y1="299.20" x2="77.80" y2="299.20" stroke="#6f7878" stroke-width="1.2" />
<line x1="77.80" y1="299.20" x2="77.80" y2="450.50" stroke="#859090" stroke-width="1.0" />
<line x1="37.30" y1="298.70" x2="37.30" y2="450.50" stroke="#3f4a4a" stroke-width="1.3" />
<line x1="36.70" y1="450.50" x2="78.30" y2="450.50" stroke="#203030" stroke-width="1.6" />
<text x="35.00" y="300.60" font-family='"Liberation Sans", sans-serif' font-size="4.0" font-weight="normal" text-anchor="end" fill="#383838" stroke="#383838" stroke-width="0.12">0.1000</text>
<text x="35.00" y="330.86" font-family='"Liberation Sans", sans-serif' font-size="4.0" font-weight="normal" text-anchor="end" fill="#383838" stroke="#383838" stroke-width="0.12">0.0800</text>
<text x="35.00" y="361.12" font-family='"Liberation Sans", sans-serif' font-size="4.0" font-weight="normal" text-anchor="end" fill="#383838" stroke="#383838" stroke-width="0.12">0.0600</text>
<text x="35.00" y="391.38" font-family='"Liberation Sans", sans-serif' font-size="4.0" font-weight="normal" text-anchor="end" fill="#383838" stroke="#383838" stroke-width="0.12">0.0400</text>
<text x="35.00" y="421.64" font-family='"Liberation Sans", sans-serif' font-size="4.0" font-weight="normal" text-anchor="end" fill="#383838" stroke="#383838" stroke-width="0.12">0.0200</text>
<text x="35.00" y="451.90" font-family='"Liberation Sans", sans-serif' font-size="4.0" font-weight="normal" text-anchor="end" fill="#383838" stroke="#383838" stroke-width="0.12">0.0000</text>
<text x="37.60" y="457.30" font-family='"Liberation Sans", sans-serif' font-size="3.9" font-weight="normal" text-anchor="middle" fill="#3c3c3c" stroke="#3c3c3c" stroke-width="0.12">0.0000</text>
<text x="57.85" y="457.30" font-family='"Liberation Sans", sans-serif' font-size="3.9" font-weight="normal" text-anchor="middle" fill="#3c3c3c" stroke="#3c3c3c" stroke-width="0.12">0.0025</text>
<text x="78.10" y="457.30" font-family='"Liberation Sans", sans-serif' font-size="3.9" font-weight="normal" text-anchor="middle" fill="#3c3c3c" stroke="#3c3c3c" stroke-width="0.12">0.0050</text>
<text x="79.20" y="472.60" font-family='"Liberation Serif", serif' font-size="8.6" font-weight="bold" text-anchor="end" fill="#141414" >mg</text>
<rect x="40.4" y="269.4" width="23.800000000000004" height="14.1" fill="#e4f9f9"/>
<text x="43.25" y="279.5" font-family='"Liberation Sans", sans-serif' font-size="8.8" font-weight="bold" fill="#0a1a1a" textLength="19.80" lengthAdjust="spacingAndGlyphs" xml:space="preserve">22° C</text>
<line x1="52.50" y1="436.50" x2="69.50" y2="408.50" stroke="#4fae4f" stroke-width="3.5" stroke-linecap="round" stroke-opacity="0.75"/>
<line x1="52.50" y1="436.50" x2="69.50" y2="408.50" stroke="#0b3f0d" stroke-width="2.4" stroke-linecap="round"/>
<line x1="52.50" y1="436.50" x2="70.10" y2="414.00" stroke="#a4b4f0" stroke-width="3.8" stroke-linecap="round" stroke-opacity="0.8"/>
<line x1="52.50" y1="436.50" x2="70.10" y2="414.00" stroke="#3047d6" stroke-width="2.6" stroke-linecap="round"/>
<rect x="109.0" y="299.2" width="40.5" height="151.10000000000002" fill="#c6d3d3"/>
<line x1="109.00" y1="299.20" x2="149.50" y2="299.20" stroke="#6f7878" stroke-width="1.2" />
<line x1="149.50" y1="299.20" x2="149.50" y2="450.30" stroke="#859090" stroke-width="1.0" />
<line x1="109.00" y1="298.70" x2="109.00" y2="450.30" stroke="#3f4a4a" stroke-width="1.3" />
<line x1="108.40" y1="450.30" x2="150.00" y2="450.30" stroke="#203030" stroke-width="1.6" />
<text x="106.70" y="300.60" font-family='"Liberation Sans", sans-serif' font-size="4.0" font-weight="normal" text-anchor="end" fill="#383838" stroke="#383838" stroke-width="0.12">0.1000</text>
<text x="106.70" y="330.82" font-family='"Liberation Sans", sans-serif' font-size="4.0" font-weight="normal" text-anchor="end" fill="#383838" stroke="#383838" stroke-width="0.12">0.0800</text>
<text x="106.70" y="361.04" font-family='"Liberation Sans", sans-serif' font-size="4.0" font-weight="normal" text-anchor="end" fill="#383838" stroke="#383838" stroke-width="0.12">0.0600</text>
<text x="106.70" y="391.26" font-family='"Liberation Sans", sans-serif' font-size="4.0" font-weight="normal" text-anchor="end" fill="#383838" stroke="#383838" stroke-width="0.12">0.0400</text>
<text x="106.70" y="421.48" font-family='"Liberation Sans", sans-serif' font-size="4.0" font-weight="normal" text-anchor="end" fill="#383838" stroke="#383838" stroke-width="0.12">0.0200</text>
<text x="106.70" y="451.70" font-family='"Liberation Sans", sans-serif' font-size="4.0" font-weight="normal" text-anchor="end" fill="#383838" stroke="#383838" stroke-width="0.12">0.0000</text>
<text x="109.30" y="457.30" font-family='"Liberation Sans", sans-serif' font-size="3.9" font-weight="normal" text-anchor="middle" fill="#3c3c3c" stroke="#3c3c3c" stroke-width="0.12">0.0000</text>
<text x="129.55" y="457.30" font-family='"Liberation Sans", sans-serif' font-size="3.9" font-weight="normal" text-anchor="middle" fill="#3c3c3c" stroke="#3c3c3c" stroke-width="0.12">0.0025</text>
<text x="149.80" y="457.30" font-family='"Liberation Sans", sans-serif' font-size="3.9" font-weight="normal" text-anchor="middle" fill="#3c3c3c" stroke="#3c3c3c" stroke-width="0.12">0.0050</text>
<text x="151.40" y="472.60" font-family='"Liberation Serif", serif' font-size="8.6" font-weight="bold" text-anchor="end" fill="#141414" >mg</text>
<rect x="115.7" y="269.4" width="19.999999999999986" height="14.1" fill="#f9f99c"/>
<text x="116.55" y="279.5" font-family='"Liberation Sans", sans-serif' font-size="8.8" font-weight="bold" fill="#111" textLength="17.90" lengthAdjust="spacingAndGlyphs" xml:space="preserve">30°C</text>
<line x1="117.10" y1="430.20" x2="133.80" y2="388.60" stroke="#4fae4f" stroke-width="3.5" stroke-linecap="round" stroke-opacity="0.75"/>
<line x1="117.10" y1="430.20" x2="133.80" y2="388.60" stroke="#0b3f0d" stroke-width="2.4" stroke-linecap="round"/>
<line x1="117.10" y1="440.40" x2="133.80" y2="419.80" stroke="#a4b4f0" stroke-width="3.8" stroke-linecap="round" stroke-opacity="0.8"/>
<line x1="117.10" y1="440.40" x2="133.80" y2="419.80" stroke="#3047d6" stroke-width="2.6" stroke-linecap="round"/>
<rect x="181.2" y="299.2" width="41.400000000000006" height="151.0" fill="#c6d3d3"/>
<line x1="181.20" y1="299.20" x2="222.60" y2="299.20" stroke="#6f7878" stroke-width="1.2" />
<line x1="222.60" y1="299.20" x2="222.60" y2="450.20" stroke="#859090" stroke-width="1.0" />
<line x1="181.20" y1="298.70" x2="181.20" y2="450.20" stroke="#3f4a4a" stroke-width="1.3" />
<line x1="180.60" y1="450.20" x2="223.10" y2="450.20" stroke="#203030" stroke-width="1.6" />
<text x="178.90" y="300.60" font-family='"Liberation Sans", sans-serif' font-size="4.0" font-weight="normal" text-anchor="end" fill="#383838" stroke="#383838" stroke-width="0.12">0.1000</text>
<text x="178.90" y="330.80" font-family='"Liberation Sans", sans-serif' font-size="4.0" font-weight="normal" text-anchor="end" fill="#383838" stroke="#383838" stroke-width="0.12">0.0800</text>
<text x="178.90" y="361.00" font-family='"Liberation Sans", sans-serif' font-size="4.0" font-weight="normal" text-anchor="end" fill="#383838" stroke="#383838" stroke-width="0.12">0.0600</text>
<text x="178.90" y="391.20" font-family='"Liberation Sans", sans-serif' font-size="4.0" font-weight="normal" text-anchor="end" fill="#383838" stroke="#383838" stroke-width="0.12">0.0400</text>
<text x="178.90" y="421.40" font-family='"Liberation Sans", sans-serif' font-size="4.0" font-weight="normal" text-anchor="end" fill="#383838" stroke="#383838" stroke-width="0.12">0.0200</text>
<text x="178.90" y="451.60" font-family='"Liberation Sans", sans-serif' font-size="4.0" font-weight="normal" text-anchor="end" fill="#383838" stroke="#383838" stroke-width="0.12">0.0000</text>
<text x="181.50" y="457.30" font-family='"Liberation Sans", sans-serif' font-size="3.9" font-weight="normal" text-anchor="middle" fill="#3c3c3c" stroke="#3c3c3c" stroke-width="0.12">0.0000</text>
<text x="202.20" y="457.30" font-family='"Liberation Sans", sans-serif' font-size="3.9" font-weight="normal" text-anchor="middle" fill="#3c3c3c" stroke="#3c3c3c" stroke-width="0.12">0.0025</text>
<text x="222.90" y="457.30" font-family='"Liberation Sans", sans-serif' font-size="3.9" font-weight="normal" text-anchor="middle" fill="#3c3c3c" stroke="#3c3c3c" stroke-width="0.12">0.0050</text>
<text x="223.80" y="472.60" font-family='"Liberation Serif", serif' font-size="8.6" font-weight="bold" text-anchor="end" fill="#141414" >mg</text>
<rect x="187.3" y="269.4" width="21.799999999999983" height="14.1" fill="#f6f000"/>
<text x="188.35" y="279.5" font-family='"Liberation Sans", sans-serif' font-size="8.8" font-weight="bold" fill="#111" textLength="19.70" lengthAdjust="spacingAndGlyphs" xml:space="preserve">37° C</text>
<line x1="189.40" y1="425.60" x2="198.10" y2="398.20" stroke="#4fae4f" stroke-width="3.5" stroke-linecap="round" stroke-opacity="0.75"/>
<line x1="189.40" y1="425.60" x2="198.10" y2="398.20" stroke="#0b3f0d" stroke-width="2.4" stroke-linecap="round"/>
<line x1="189.40" y1="438.50" x2="198.10" y2="424.40" stroke="#a4b4f0" stroke-width="3.8" stroke-linecap="round" stroke-opacity="0.8"/>
<line x1="189.40" y1="438.50" x2="198.10" y2="424.40" stroke="#3047d6" stroke-width="2.6" stroke-linecap="round"/>
<rect x="253.3" y="299.2" width="41.0" height="151.0" fill="#c6d3d3"/>
<line x1="253.30" y1="299.20" x2="294.30" y2="299.20" stroke="#6f7878" stroke-width="1.2" />
<line x1="294.30" y1="299.20" x2="294.30" y2="450.20" stroke="#859090" stroke-width="1.0" />
<line x1="253.30" y1="298.70" x2="253.30" y2="450.20" stroke="#3f4a4a" stroke-width="1.3" />
<line x1="252.70" y1="450.20" x2="294.80" y2="450.20" stroke="#203030" stroke-width="1.6" />
<text x="251.00" y="300.60" font-family='"Liberation Sans", sans-serif' font-size="4.0" font-weight="normal" text-anchor="end" fill="#383838" stroke="#383838" stroke-width="0.12">0.1000</text>
<text x="251.00" y="330.80" font-family='"Liberation Sans", sans-serif' font-size="4.0" font-weight="normal" text-anchor="end" fill="#383838" stroke="#383838" stroke-width="0.12">0.0800</text>
<text x="251.00" y="361.00" font-family='"Liberation Sans", sans-serif' font-size="4.0" font-weight="normal" text-anchor="end" fill="#383838" stroke="#383838" stroke-width="0.12">0.0600</text>
<text x="251.00" y="391.20" font-family='"Liberation Sans", sans-serif' font-size="4.0" font-weight="normal" text-anchor="end" fill="#383838" stroke="#383838" stroke-width="0.12">0.0400</text>
<text x="251.00" y="421.40" font-family='"Liberation Sans", sans-serif' font-size="4.0" font-weight="normal" text-anchor="end" fill="#383838" stroke="#383838" stroke-width="0.12">0.0200</text>
<text x="251.00" y="451.60" font-family='"Liberation Sans", sans-serif' font-size="4.0" font-weight="normal" text-anchor="end" fill="#383838" stroke="#383838" stroke-width="0.12">0.0000</text>
<text x="253.60" y="457.30" font-family='"Liberation Sans", sans-serif' font-size="3.9" font-weight="normal" text-anchor="middle" fill="#3c3c3c" stroke="#3c3c3c" stroke-width="0.12">0.0000</text>
<text x="274.10" y="457.30" font-family='"Liberation Sans", sans-serif' font-size="3.9" font-weight="normal" text-anchor="middle" fill="#3c3c3c" stroke="#3c3c3c" stroke-width="0.12">0.0025</text>
<text x="294.60" y="457.30" font-family='"Liberation Sans", sans-serif' font-size="3.9" font-weight="normal" text-anchor="middle" fill="#3c3c3c" stroke="#3c3c3c" stroke-width="0.12">0.0050</text>
<text x="296.00" y="472.60" font-family='"Liberation Serif", serif' font-size="8.6" font-weight="bold" text-anchor="end" fill="#141414" >mg</text>
<rect x="260.3" y="269.4" width="19.5" height="14.1" fill="#f7d300"/>
<text x="260.95" y="279.5" font-family='"Liberation Sans", sans-serif' font-size="8.8" font-weight="bold" fill="#111" textLength="17.80" lengthAdjust="spacingAndGlyphs" xml:space="preserve">40°C</text>
<line x1="261.50" y1="423.30" x2="269.60" y2="393.70" stroke="#4fae4f" stroke-width="3.5" stroke-linecap="round" stroke-opacity="0.75"/>
<line x1="261.50" y1="423.30" x2="269.60" y2="393.70" stroke="#0b3f0d" stroke-width="2.4" stroke-linecap="round"/>
<line x1="261.50" y1="435.90" x2="269.60" y2="419.80" stroke="#a4b4f0" stroke-width="3.8" stroke-linecap="round" stroke-opacity="0.8"/>
<line x1="261.50" y1="435.90" x2="269.60" y2="419.80" stroke="#3047d6" stroke-width="2.6" stroke-linecap="round"/>
<rect x="327.2" y="299.2" width="39.400000000000034" height="150.0" fill="#c6d3d3"/>
<line x1="327.20" y1="299.20" x2="366.60" y2="299.20" stroke="#6f7878" stroke-width="1.2" />
<line x1="366.60" y1="299.20" x2="366.60" y2="449.20" stroke="#859090" stroke-width="1.0" />
<line x1="327.20" y1="298.70" x2="327.20" y2="449.20" stroke="#3f4a4a" stroke-width="1.3" />
<line x1="326.60" y1="449.20" x2="367.10" y2="449.20" stroke="#203030" stroke-width="1.6" />
<text x="324.90" y="300.60" font-family='"Liberation Sans", sans-serif' font-size="4.0" font-weight="normal" text-anchor="end" fill="#383838" stroke="#383838" stroke-width="0.12">0.1000</text>
<text x="324.90" y="330.60" font-family='"Liberation Sans", sans-serif' font-size="4.0" font-weight="normal" text-anchor="end" fill="#383838" stroke="#383838" stroke-width="0.12">0.0800</text>
<text x="324.90" y="360.60" font-family='"Liberation Sans", sans-serif' font-size="4.0" font-weight="normal" text-anchor="end" fill="#383838" stroke="#383838" stroke-width="0.12">0.0600</text>
<text x="324.90" y="390.60" font-family='"Liberation Sans", sans-serif' font-size="4.0" font-weight="normal" text-anchor="end" fill="#383838" stroke="#383838" stroke-width="0.12">0.0400</text>
<text x="324.90" y="420.60" font-family='"Liberation Sans", sans-serif' font-size="4.0" font-weight="normal" text-anchor="end" fill="#383838" stroke="#383838" stroke-width="0.12">0.0200</text>
<text x="324.90" y="450.60" font-family='"Liberation Sans", sans-serif' font-size="4.0" font-weight="normal" text-anchor="end" fill="#383838" stroke="#383838" stroke-width="0.12">0.0000</text>
<text x="327.50" y="457.30" font-family='"Liberation Sans", sans-serif' font-size="3.9" font-weight="normal" text-anchor="middle" fill="#3c3c3c" stroke="#3c3c3c" stroke-width="0.12">0.0000</text>
<text x="347.20" y="457.30" font-family='"Liberation Sans", sans-serif' font-size="3.9" font-weight="normal" text-anchor="middle" fill="#3c3c3c" stroke="#3c3c3c" stroke-width="0.12">0.0025</text>
<text x="366.90" y="457.30" font-family='"Liberation Sans", sans-serif' font-size="3.9" font-weight="normal" text-anchor="middle" fill="#3c3c3c" stroke="#3c3c3c" stroke-width="0.12">0.0050</text>
<text x="368.20" y="472.60" font-family='"Liberation Serif", serif' font-size="8.6" font-weight="bold" text-anchor="end" fill="#141414" >mg</text>
<rect x="332.3" y="269.4" width="19.599999999999966" height="14.1" fill="#f6931c"/>
<text x="332.85" y="279.5" font-family='"Liberation Sans", sans-serif' font-size="8.8" font-weight="bold" fill="#1a0800" textLength="18.90" lengthAdjust="spacingAndGlyphs" xml:space="preserve">43°C</text>
<line x1="334.80" y1="417.10" x2="343.10" y2="373.50" stroke="#4fae4f" stroke-width="3.5" stroke-linecap="round" stroke-opacity="0.75"/>
<line x1="334.80" y1="417.10" x2="343.10" y2="373.50" stroke="#0b3f0d" stroke-width="2.4" stroke-linecap="round"/>
<line x1="334.80" y1="433.20" x2="343.10" y2="418.70" stroke="#a4b4f0" stroke-width="3.8" stroke-linecap="round" stroke-opacity="0.8"/>
<line x1="334.80" y1="433.20" x2="343.10" y2="418.70" stroke="#3047d6" stroke-width="2.6" stroke-linecap="round"/>
<rect x="400.6" y="299.2" width="36.39999999999998" height="151.0" fill="#c6d3d3"/>
<line x1="400.60" y1="299.20" x2="437.00" y2="299.20" stroke="#6f7878" stroke-width="1.2" />
<line x1="437.00" y1="299.20" x2="437.00" y2="450.20" stroke="#859090" stroke-width="1.0" />
<line x1="400.60" y1="298.70" x2="400.60" y2="450.20" stroke="#3f4a4a" stroke-width="1.3" />
<line x1="400.00" y1="450.20" x2="437.50" y2="450.20" stroke="#203030" stroke-width="1.6" />
<text x="398.30" y="300.60" font-family='"Liberation Sans", sans-serif' font-size="4.4" font-weight="normal" text-anchor="end" fill="#383838" stroke="#383838" stroke-width="0.12">0.1000</text>
<text x="398.30" y="330.80" font-family='"Liberation Sans", sans-serif' font-size="4.4" font-weight="normal" text-anchor="end" fill="#383838" stroke="#383838" stroke-width="0.12">0.0800</text>
<text x="398.30" y="361.00" font-family='"Liberation Sans", sans-serif' font-size="4.4" font-weight="normal" text-anchor="end" fill="#383838" stroke="#383838" stroke-width="0.12">0.0600</text>
<text x="398.30" y="391.20" font-family='"Liberation Sans", sans-serif' font-size="4.4" font-weight="normal" text-anchor="end" fill="#383838" stroke="#383838" stroke-width="0.12">0.0400</text>
<text x="398.30" y="421.40" font-family='"Liberation Sans", sans-serif' font-size="4.4" font-weight="normal" text-anchor="end" fill="#383838" stroke="#383838" stroke-width="0.12">0.0200</text>
<text x="398.30" y="451.60" font-family='"Liberation Sans", sans-serif' font-size="4.4" font-weight="normal" text-anchor="end" fill="#383838" stroke="#383838" stroke-width="0.12">0.0000</text>
<text x="400.90" y="457.30" font-family='"Liberation Sans", sans-serif' font-size="4.4" font-weight="normal" text-anchor="middle" fill="#3c3c3c" stroke="#3c3c3c" stroke-width="0.12">0.0000</text>
<text x="419.10" y="457.30" font-family='"Liberation Sans", sans-serif' font-size="4.4" font-weight="normal" text-anchor="middle" fill="#3c3c3c" stroke="#3c3c3c" stroke-width="0.12">0.0025</text>
<text x="437.30" y="457.30" font-family='"Liberation Sans", sans-serif' font-size="4.4" font-weight="normal" text-anchor="middle" fill="#3c3c3c" stroke="#3c3c3c" stroke-width="0.12">0.0050</text>
<text x="440.30" y="472.60" font-family='"Liberation Serif", serif' font-size="8.6" font-weight="bold" text-anchor="end" fill="#141414" >mg</text>
<rect x="401.5" y="269.4" width="25.399999999999977" height="14.1" fill="#f1561e"/>
<text x="402.85" y="279.5" font-family='"Liberation Sans", sans-serif' font-size="8.8" font-weight="bold" fill="#1a0500" textLength="22.40" lengthAdjust="spacingAndGlyphs" xml:space="preserve">50° C</text>
<line x1="407.70" y1="354.20" x2="415.80" y2="305.40" stroke="#4fae4f" stroke-width="3.5" stroke-linecap="round" stroke-opacity="0.75"/>
<line x1="407.70" y1="354.20" x2="415.80" y2="305.40" stroke="#0b3f0d" stroke-width="2.4" stroke-linecap="round"/>
<line x1="407.70" y1="438.00" x2="415.80" y2="430.40" stroke="#a4b4f0" stroke-width="3.8" stroke-linecap="round" stroke-opacity="0.8"/>
<line x1="407.70" y1="438.00" x2="415.80" y2="430.40" stroke="#3047d6" stroke-width="2.6" stroke-linecap="round"/>
<rect x="470.9" y="299.2" width="41.10000000000002" height="149.90000000000003" fill="#c6d3d3"/>
<line x1="470.90" y1="299.20" x2="512.00" y2="299.20" stroke="#6f7878" stroke-width="1.2" />
<line x1="512.00" y1="299.20" x2="512.00" y2="449.10" stroke="#859090" stroke-width="1.0" />
<line x1="470.90" y1="298.70" x2="470.90" y2="449.10" stroke="#3f4a4a" stroke-width="1.3" />
<line x1="470.30" y1="449.10" x2="512.50" y2="449.10" stroke="#203030" stroke-width="1.6" />
<text x="468.60" y="300.60" font-family='"Liberation Sans", sans-serif' font-size="4.0" font-weight="normal" text-anchor="end" fill="#383838" stroke="#383838" stroke-width="0.12">0.1000</text>
<text x="468.60" y="330.58" font-family='"Liberation Sans", sans-serif' font-size="4.0" font-weight="normal" text-anchor="end" fill="#383838" stroke="#383838" stroke-width="0.12">0.0800</text>
<text x="468.60" y="360.56" font-family='"Liberation Sans", sans-serif' font-size="4.0" font-weight="normal" text-anchor="end" fill="#383838" stroke="#383838" stroke-width="0.12">0.0600</text>
<text x="468.60" y="390.54" font-family='"Liberation Sans", sans-serif' font-size="4.0" font-weight="normal" text-anchor="end" fill="#383838" stroke="#383838" stroke-width="0.12">0.0400</text>
<text x="468.60" y="420.52" font-family='"Liberation Sans", sans-serif' font-size="4.0" font-weight="normal" text-anchor="end" fill="#383838" stroke="#383838" stroke-width="0.12">0.0200</text>
<text x="468.60" y="450.50" font-family='"Liberation Sans", sans-serif' font-size="4.0" font-weight="normal" text-anchor="end" fill="#383838" stroke="#383838" stroke-width="0.12">0.0000</text>
<text x="471.20" y="457.30" font-family='"Liberation Sans", sans-serif' font-size="3.9" font-weight="normal" text-anchor="middle" fill="#3c3c3c" stroke="#3c3c3c" stroke-width="0.12">0.0000</text>
<text x="491.75" y="457.30" font-family='"Liberation Sans", sans-serif' font-size="3.9" font-weight="normal" text-anchor="middle" fill="#3c3c3c" stroke="#3c3c3c" stroke-width="0.12">0.0025</text>
<text x="512.30" y="457.30" font-family='"Liberation Sans", sans-serif' font-size="3.9" font-weight="normal" text-anchor="middle" fill="#3c3c3c" stroke="#3c3c3c" stroke-width="0.12">0.0050</text>
<text x="510.80" y="472.60" font-family='"Liberation Serif", serif' font-size="8.6" font-weight="bold" text-anchor="end" fill="#141414" >mg</text>
<rect x="476.1" y="269.4" width="21.5" height="14.1" fill="#e2121a"/>
<text x="477.35" y="279.5" font-family='"Liberation Sans", sans-serif' font-size="8.8" font-weight="bold" fill="#2a0000" textLength="19.50" lengthAdjust="spacingAndGlyphs" xml:space="preserve">60° C</text>
<rect x="478.9" y="447.0" width="9.5" height="2.2" fill="#2646c8"/>
<line x1="33.50" y1="488.20" x2="54.20" y2="488.20" stroke="#1f9a22" stroke-width="2.4" />
<text x="60.80" y="490.10" font-family='"Liberation Sans", sans-serif' font-size="9.6" font-weight="normal" text-anchor="start" fill="#2a2a2a" textLength="41.2" lengthAdjust="spacingAndGlyphs">Wild-type</text>
<line x1="136.10" y1="488.60" x2="156.50" y2="488.60" stroke="#3a55e6" stroke-width="2.4" />
<text x="161.00" y="490.30" font-family='"Liberation Sans", sans-serif' font-size="9.6" font-weight="normal" text-anchor="start" fill="#2a2a2a" textLength="30.2" lengthAdjust="spacingAndGlyphs">C338Y</text>
</svg>
</body></html>
